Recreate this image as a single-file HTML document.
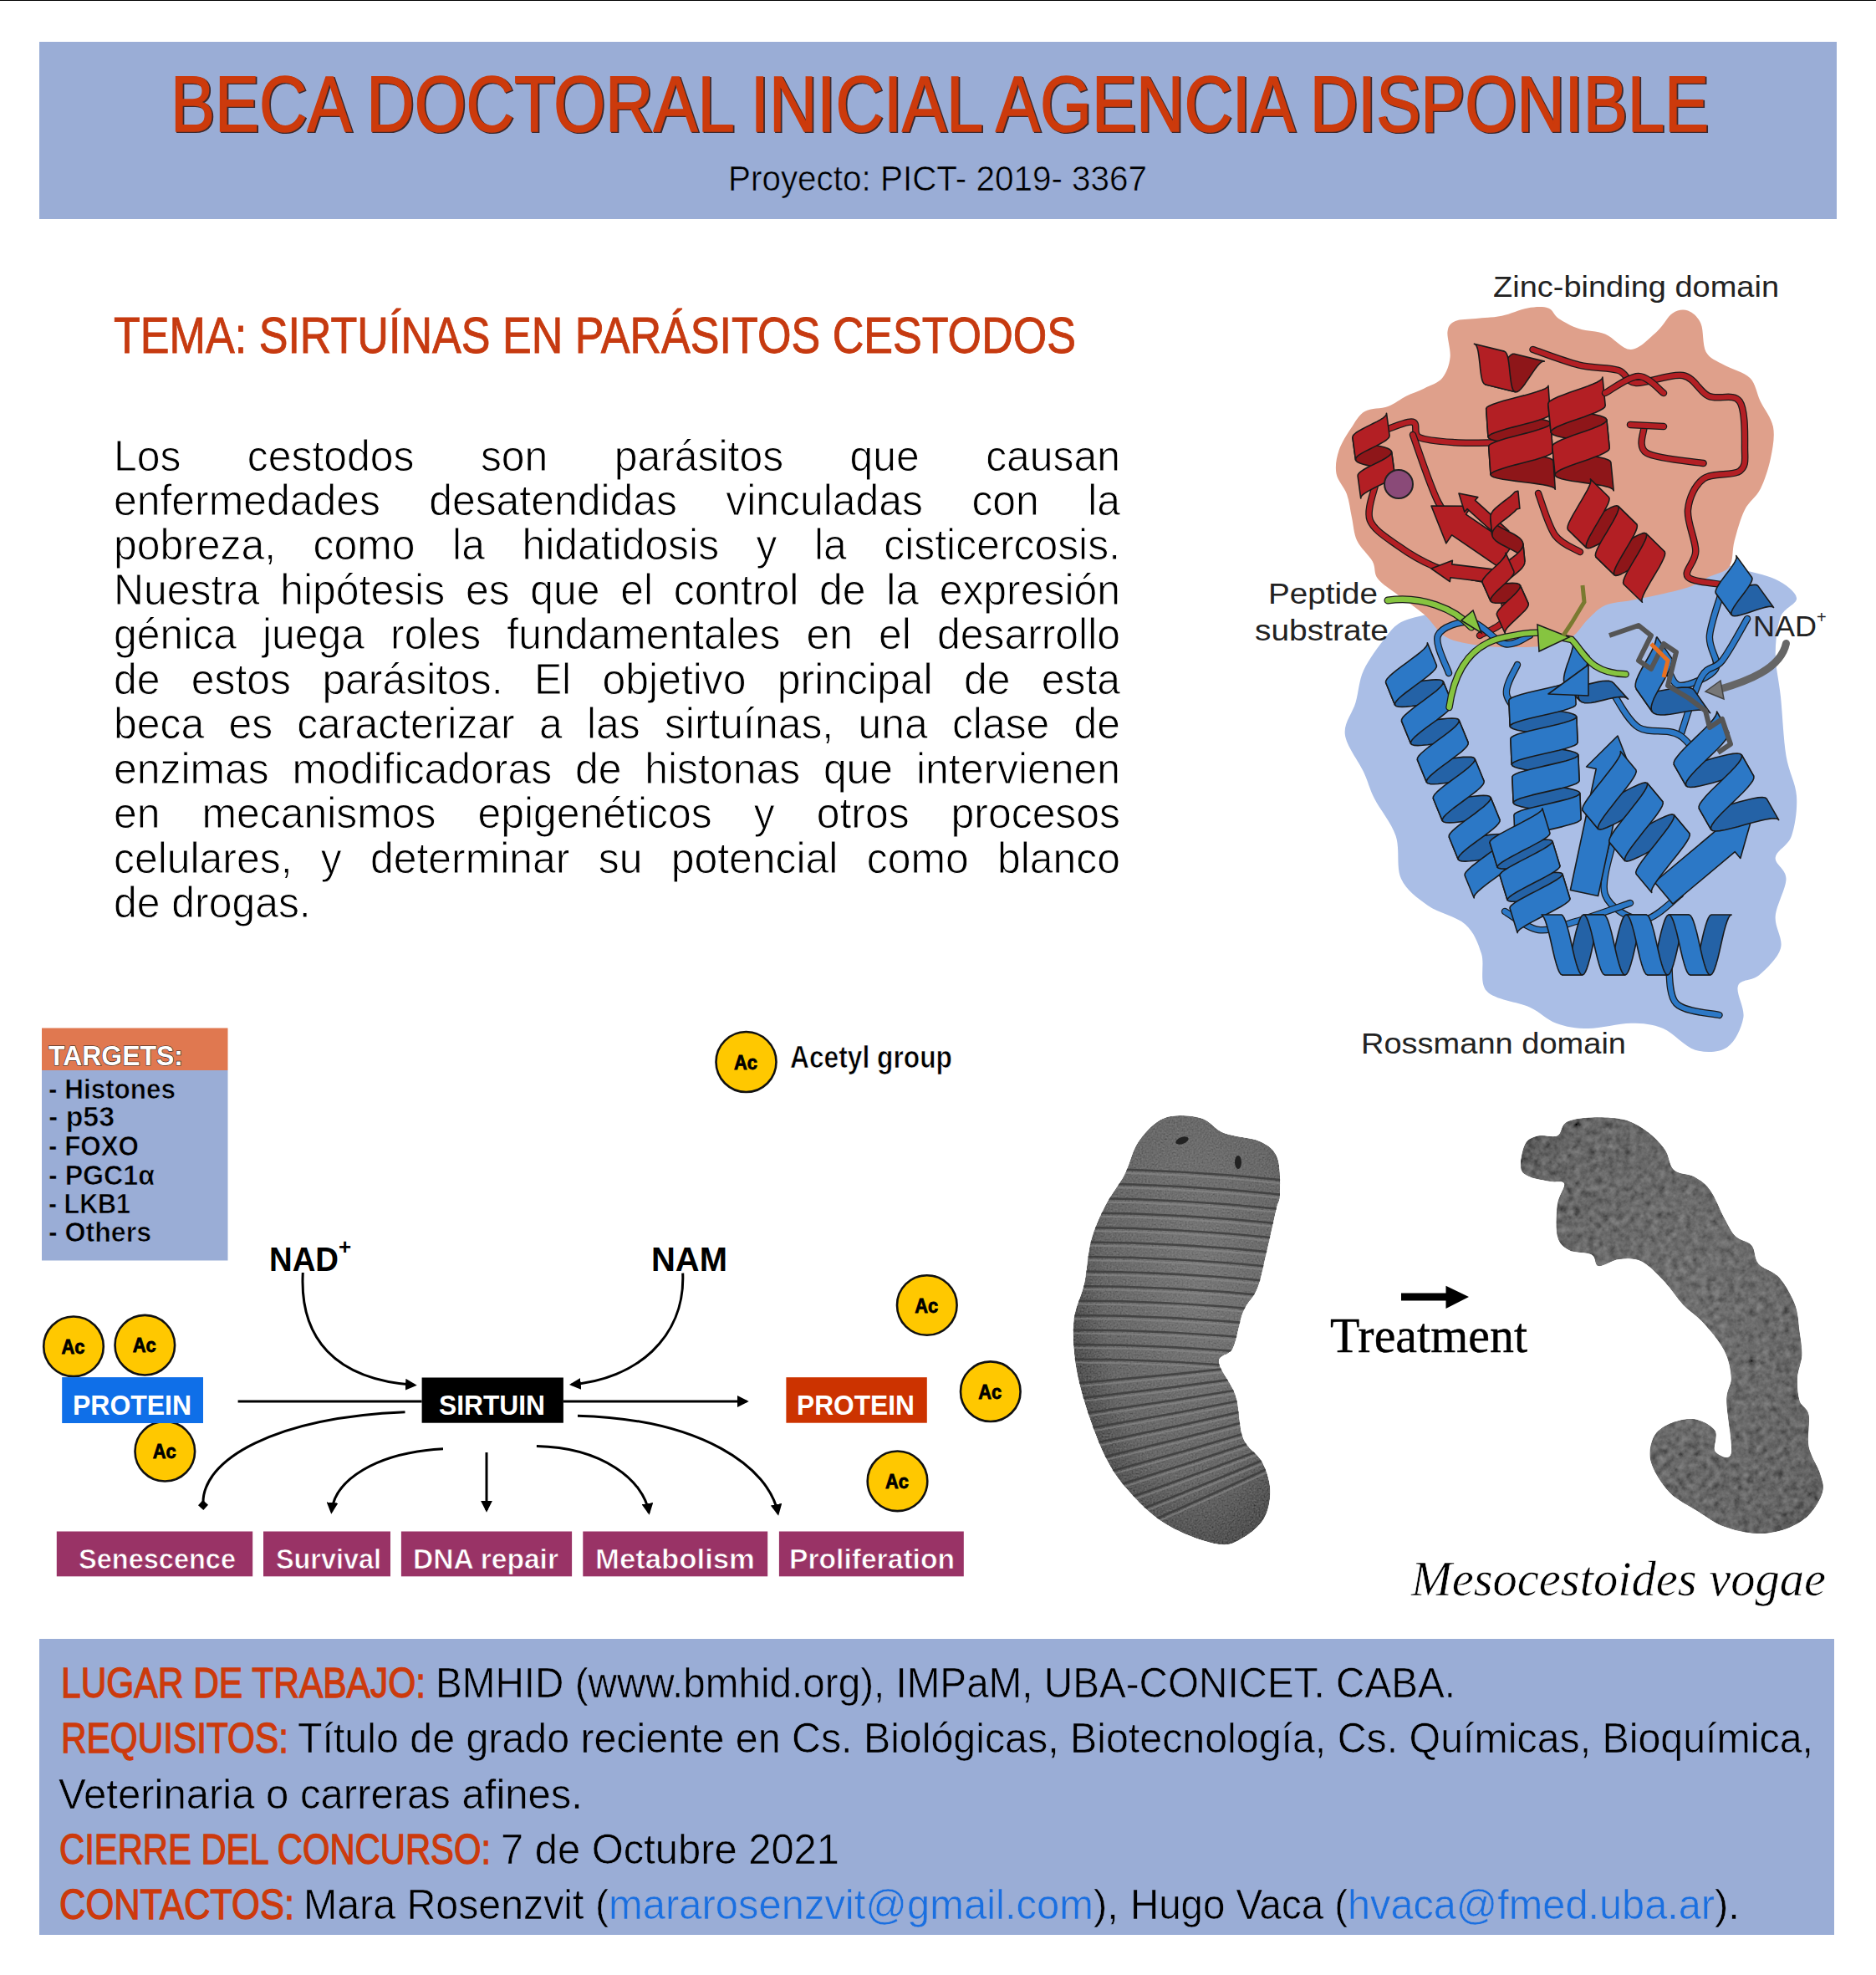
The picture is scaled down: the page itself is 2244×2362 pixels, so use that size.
<!DOCTYPE html>
<html><head><meta charset="utf-8">
<style>
html,body{margin:0;padding:0;background:#fff;width:2244px;height:2362px;overflow:hidden}
svg{display:block}
.s{font-family:"Liberation Sans",sans-serif}
.sb{font-family:"Liberation Sans",sans-serif;font-weight:bold}
.se{font-family:"Liberation Serif",serif}
.si{font-family:"Liberation Serif",serif;font-style:italic}
</style></head><body>
<svg width="2244" height="2362" viewBox="0 0 2244 2362">
<rect x="0" y="0" width="2244" height="2362" fill="#fff"/>
<rect x="0" y="0" width="2244" height="1" fill="#000"/>
<rect x="47" y="50" width="2150" height="212" fill="#9AADD6"/>
<text class="s" x="205.5" y="158.0" font-size="94" fill="#3a2a30" textLength="1840.0" lengthAdjust="spacingAndGlyphs" stroke="#3a2a30" stroke-width="2.2">BECA DOCTORAL INICIAL AGENCIA DISPONIBLE</text>
<text class="s" x="204.0" y="156.5" font-size="94" fill="#CC3A0C" textLength="1840.0" lengthAdjust="spacingAndGlyphs" stroke="#CC3A0C" stroke-width="1.6">BECA DOCTORAL INICIAL AGENCIA DISPONIBLE</text>
<text class="s" x="871.0" y="227.8" font-size="42.6" fill="#000" textLength="501.0" lengthAdjust="spacingAndGlyphs" stroke="#9AADD6" stroke-width="0.6">Proyecto: PICT- 2019- 3367</text>
<text class="s" x="136.0" y="422.0" font-size="61.6" fill="#C63A10" textLength="1151.0" lengthAdjust="spacingAndGlyphs" stroke="#C63A10" stroke-width="0.9">TEMA: SIRTUÍNAS EN PARÁSITOS CESTODOS</text>
<text class="s" x="136.0" y="562.5" font-size="52.5" fill="#000" textLength="80.4" lengthAdjust="spacingAndGlyphs" stroke="#fff" stroke-width="0.9">Los</text>
<text class="s" x="295.8" y="562.5" font-size="52.5" fill="#000" textLength="199.6" lengthAdjust="spacingAndGlyphs" stroke="#fff" stroke-width="0.9">cestodos</text>
<text class="s" x="574.9" y="562.5" font-size="52.5" fill="#000" textLength="80.4" lengthAdjust="spacingAndGlyphs" stroke="#fff" stroke-width="0.9">son</text>
<text class="s" x="734.7" y="562.5" font-size="52.5" fill="#000" textLength="202.4" lengthAdjust="spacingAndGlyphs" stroke="#fff" stroke-width="0.9">parásitos</text>
<text class="s" x="1016.5" y="562.5" font-size="52.5" fill="#000" textLength="83.2" lengthAdjust="spacingAndGlyphs" stroke="#fff" stroke-width="0.9">que</text>
<text class="s" x="1179.2" y="562.5" font-size="52.5" fill="#000" textLength="160.8" lengthAdjust="spacingAndGlyphs" stroke="#fff" stroke-width="0.9">causan</text>
<text class="s" x="136.0" y="616.0" font-size="52.5" fill="#000" textLength="318.9" lengthAdjust="spacingAndGlyphs" stroke="#fff" stroke-width="0.9">enfermedades</text>
<text class="s" x="513.2" y="616.0" font-size="52.5" fill="#000" textLength="296.7" lengthAdjust="spacingAndGlyphs" stroke="#fff" stroke-width="0.9">desatendidas</text>
<text class="s" x="868.3" y="616.0" font-size="52.5" fill="#000" textLength="235.7" lengthAdjust="spacingAndGlyphs" stroke="#fff" stroke-width="0.9">vinculadas</text>
<text class="s" x="1162.4" y="616.0" font-size="52.5" fill="#000" textLength="80.4" lengthAdjust="spacingAndGlyphs" stroke="#fff" stroke-width="0.9">con</text>
<text class="s" x="1301.2" y="616.0" font-size="52.5" fill="#000" textLength="38.8" lengthAdjust="spacingAndGlyphs" stroke="#fff" stroke-width="0.9">la</text>
<text class="s" x="136.0" y="669.4" font-size="52.5" fill="#000" textLength="194.1" lengthAdjust="spacingAndGlyphs" stroke="#fff" stroke-width="0.9">pobreza,</text>
<text class="s" x="374.6" y="669.4" font-size="52.5" fill="#000" textLength="122.0" lengthAdjust="spacingAndGlyphs" stroke="#fff" stroke-width="0.9">como</text>
<text class="s" x="541.1" y="669.4" font-size="52.5" fill="#000" textLength="38.8" lengthAdjust="spacingAndGlyphs" stroke="#fff" stroke-width="0.9">la</text>
<text class="s" x="624.4" y="669.4" font-size="52.5" fill="#000" textLength="235.7" lengthAdjust="spacingAndGlyphs" stroke="#fff" stroke-width="0.9">hidatidosis</text>
<text class="s" x="904.6" y="669.4" font-size="52.5" fill="#000" textLength="24.9" lengthAdjust="spacingAndGlyphs" stroke="#fff" stroke-width="0.9">y</text>
<text class="s" x="974.0" y="669.4" font-size="52.5" fill="#000" textLength="38.8" lengthAdjust="spacingAndGlyphs" stroke="#fff" stroke-width="0.9">la</text>
<text class="s" x="1057.3" y="669.4" font-size="52.5" fill="#000" textLength="282.7" lengthAdjust="spacingAndGlyphs" stroke="#fff" stroke-width="0.9">cisticercosis.</text>
<text class="s" x="136.0" y="722.9" font-size="52.5" fill="#000" textLength="174.6" lengthAdjust="spacingAndGlyphs" stroke="#fff" stroke-width="0.9">Nuestra</text>
<text class="s" x="335.3" y="722.9" font-size="52.5" fill="#000" textLength="196.8" lengthAdjust="spacingAndGlyphs" stroke="#fff" stroke-width="0.9">hipótesis</text>
<text class="s" x="556.9" y="722.9" font-size="52.5" fill="#000" textLength="52.7" lengthAdjust="spacingAndGlyphs" stroke="#fff" stroke-width="0.9">es</text>
<text class="s" x="634.2" y="722.9" font-size="52.5" fill="#000" textLength="83.2" lengthAdjust="spacingAndGlyphs" stroke="#fff" stroke-width="0.9">que</text>
<text class="s" x="742.2" y="722.9" font-size="52.5" fill="#000" textLength="38.8" lengthAdjust="spacingAndGlyphs" stroke="#fff" stroke-width="0.9">el</text>
<text class="s" x="805.7" y="722.9" font-size="52.5" fill="#000" textLength="149.7" lengthAdjust="spacingAndGlyphs" stroke="#fff" stroke-width="0.9">control</text>
<text class="s" x="980.1" y="722.9" font-size="52.5" fill="#000" textLength="55.5" lengthAdjust="spacingAndGlyphs" stroke="#fff" stroke-width="0.9">de</text>
<text class="s" x="1060.2" y="722.9" font-size="52.5" fill="#000" textLength="38.8" lengthAdjust="spacingAndGlyphs" stroke="#fff" stroke-width="0.9">la</text>
<text class="s" x="1123.7" y="722.9" font-size="52.5" fill="#000" textLength="216.3" lengthAdjust="spacingAndGlyphs" stroke="#fff" stroke-width="0.9">expresión</text>
<text class="s" x="136.0" y="776.3" font-size="52.5" fill="#000" textLength="147.0" lengthAdjust="spacingAndGlyphs" stroke="#fff" stroke-width="0.9">génica</text>
<text class="s" x="314.0" y="776.3" font-size="52.5" fill="#000" textLength="122.0" lengthAdjust="spacingAndGlyphs" stroke="#fff" stroke-width="0.9">juega</text>
<text class="s" x="467.1" y="776.3" font-size="52.5" fill="#000" textLength="108.1" lengthAdjust="spacingAndGlyphs" stroke="#fff" stroke-width="0.9">roles</text>
<text class="s" x="606.3" y="776.3" font-size="52.5" fill="#000" textLength="327.2" lengthAdjust="spacingAndGlyphs" stroke="#fff" stroke-width="0.9">fundamentales</text>
<text class="s" x="964.6" y="776.3" font-size="52.5" fill="#000" textLength="55.5" lengthAdjust="spacingAndGlyphs" stroke="#fff" stroke-width="0.9">en</text>
<text class="s" x="1051.1" y="776.3" font-size="52.5" fill="#000" textLength="38.8" lengthAdjust="spacingAndGlyphs" stroke="#fff" stroke-width="0.9">el</text>
<text class="s" x="1121.0" y="776.3" font-size="52.5" fill="#000" textLength="219.0" lengthAdjust="spacingAndGlyphs" stroke="#fff" stroke-width="0.9">desarrollo</text>
<text class="s" x="136.0" y="829.8" font-size="52.5" fill="#000" textLength="55.5" lengthAdjust="spacingAndGlyphs" stroke="#fff" stroke-width="0.9">de</text>
<text class="s" x="228.8" y="829.8" font-size="52.5" fill="#000" textLength="119.2" lengthAdjust="spacingAndGlyphs" stroke="#fff" stroke-width="0.9">estos</text>
<text class="s" x="385.4" y="829.8" font-size="52.5" fill="#000" textLength="216.2" lengthAdjust="spacingAndGlyphs" stroke="#fff" stroke-width="0.9">parásitos.</text>
<text class="s" x="638.9" y="829.8" font-size="52.5" fill="#000" textLength="44.3" lengthAdjust="spacingAndGlyphs" stroke="#fff" stroke-width="0.9">El</text>
<text class="s" x="720.6" y="829.8" font-size="52.5" fill="#000" textLength="171.9" lengthAdjust="spacingAndGlyphs" stroke="#fff" stroke-width="0.9">objetivo</text>
<text class="s" x="929.8" y="829.8" font-size="52.5" fill="#000" textLength="185.7" lengthAdjust="spacingAndGlyphs" stroke="#fff" stroke-width="0.9">principal</text>
<text class="s" x="1152.9" y="829.8" font-size="52.5" fill="#000" textLength="55.5" lengthAdjust="spacingAndGlyphs" stroke="#fff" stroke-width="0.9">de</text>
<text class="s" x="1245.7" y="829.8" font-size="52.5" fill="#000" textLength="94.3" lengthAdjust="spacingAndGlyphs" stroke="#fff" stroke-width="0.9">esta</text>
<text class="s" x="136.0" y="883.2" font-size="52.5" fill="#000" textLength="108.2" lengthAdjust="spacingAndGlyphs" stroke="#fff" stroke-width="0.9">beca</text>
<text class="s" x="273.4" y="883.2" font-size="52.5" fill="#000" textLength="52.7" lengthAdjust="spacingAndGlyphs" stroke="#fff" stroke-width="0.9">es</text>
<text class="s" x="355.2" y="883.2" font-size="52.5" fill="#000" textLength="260.5" lengthAdjust="spacingAndGlyphs" stroke="#fff" stroke-width="0.9">caracterizar</text>
<text class="s" x="645.0" y="883.2" font-size="52.5" fill="#000" textLength="27.7" lengthAdjust="spacingAndGlyphs" stroke="#fff" stroke-width="0.9">a</text>
<text class="s" x="701.9" y="883.2" font-size="52.5" fill="#000" textLength="63.8" lengthAdjust="spacingAndGlyphs" stroke="#fff" stroke-width="0.9">las</text>
<text class="s" x="794.9" y="883.2" font-size="52.5" fill="#000" textLength="202.3" lengthAdjust="spacingAndGlyphs" stroke="#fff" stroke-width="0.9">sirtuínas,</text>
<text class="s" x="1026.5" y="883.2" font-size="52.5" fill="#000" textLength="83.2" lengthAdjust="spacingAndGlyphs" stroke="#fff" stroke-width="0.9">una</text>
<text class="s" x="1138.9" y="883.2" font-size="52.5" fill="#000" textLength="116.4" lengthAdjust="spacingAndGlyphs" stroke="#fff" stroke-width="0.9">clase</text>
<text class="s" x="1284.5" y="883.2" font-size="52.5" fill="#000" textLength="55.5" lengthAdjust="spacingAndGlyphs" stroke="#fff" stroke-width="0.9">de</text>
<text class="s" x="136.0" y="936.7" font-size="52.5" fill="#000" textLength="185.7" lengthAdjust="spacingAndGlyphs" stroke="#fff" stroke-width="0.9">enzimas</text>
<text class="s" x="349.6" y="936.7" font-size="52.5" fill="#000" textLength="310.5" lengthAdjust="spacingAndGlyphs" stroke="#fff" stroke-width="0.9">modificadoras</text>
<text class="s" x="687.9" y="936.7" font-size="52.5" fill="#000" textLength="55.5" lengthAdjust="spacingAndGlyphs" stroke="#fff" stroke-width="0.9">de</text>
<text class="s" x="771.3" y="936.7" font-size="52.5" fill="#000" textLength="185.8" lengthAdjust="spacingAndGlyphs" stroke="#fff" stroke-width="0.9">histonas</text>
<text class="s" x="984.9" y="936.7" font-size="52.5" fill="#000" textLength="83.2" lengthAdjust="spacingAndGlyphs" stroke="#fff" stroke-width="0.9">que</text>
<text class="s" x="1096.0" y="936.7" font-size="52.5" fill="#000" textLength="244.0" lengthAdjust="spacingAndGlyphs" stroke="#fff" stroke-width="0.9">intervienen</text>
<text class="s" x="136.0" y="990.1" font-size="52.5" fill="#000" textLength="55.5" lengthAdjust="spacingAndGlyphs" stroke="#fff" stroke-width="0.9">en</text>
<text class="s" x="241.5" y="990.1" font-size="52.5" fill="#000" textLength="279.9" lengthAdjust="spacingAndGlyphs" stroke="#fff" stroke-width="0.9">mecanismos</text>
<text class="s" x="571.5" y="990.1" font-size="52.5" fill="#000" textLength="280.1" lengthAdjust="spacingAndGlyphs" stroke="#fff" stroke-width="0.9">epigenéticos</text>
<text class="s" x="901.7" y="990.1" font-size="52.5" fill="#000" textLength="24.9" lengthAdjust="spacingAndGlyphs" stroke="#fff" stroke-width="0.9">y</text>
<text class="s" x="976.7" y="990.1" font-size="52.5" fill="#000" textLength="110.9" lengthAdjust="spacingAndGlyphs" stroke="#fff" stroke-width="0.9">otros</text>
<text class="s" x="1137.6" y="990.1" font-size="52.5" fill="#000" textLength="202.4" lengthAdjust="spacingAndGlyphs" stroke="#fff" stroke-width="0.9">procesos</text>
<text class="s" x="136.0" y="1043.5" font-size="52.5" fill="#000" textLength="213.5" lengthAdjust="spacingAndGlyphs" stroke="#fff" stroke-width="0.9">celulares,</text>
<text class="s" x="383.8" y="1043.5" font-size="52.5" fill="#000" textLength="24.9" lengthAdjust="spacingAndGlyphs" stroke="#fff" stroke-width="0.9">y</text>
<text class="s" x="443.0" y="1043.5" font-size="52.5" fill="#000" textLength="238.4" lengthAdjust="spacingAndGlyphs" stroke="#fff" stroke-width="0.9">determinar</text>
<text class="s" x="715.8" y="1043.5" font-size="52.5" fill="#000" textLength="52.7" lengthAdjust="spacingAndGlyphs" stroke="#fff" stroke-width="0.9">su</text>
<text class="s" x="802.8" y="1043.5" font-size="52.5" fill="#000" textLength="199.6" lengthAdjust="spacingAndGlyphs" stroke="#fff" stroke-width="0.9">potencial</text>
<text class="s" x="1036.7" y="1043.5" font-size="52.5" fill="#000" textLength="122.0" lengthAdjust="spacingAndGlyphs" stroke="#fff" stroke-width="0.9">como</text>
<text class="s" x="1193.0" y="1043.5" font-size="52.5" fill="#000" textLength="147.0" lengthAdjust="spacingAndGlyphs" stroke="#fff" stroke-width="0.9">blanco</text>
<text class="s" x="136.0" y="1097.0" font-size="52.5" fill="#000" textLength="55.5" lengthAdjust="spacingAndGlyphs" stroke="#fff" stroke-width="0.9">de</text>
<text class="s" x="205.3" y="1097.0" font-size="52.5" fill="#000" textLength="166.4" lengthAdjust="spacingAndGlyphs" stroke="#fff" stroke-width="0.9">drogas.</text>
<rect x="47" y="1960" width="2147" height="354" fill="#9AADD6"/>
<text class="s" x="73.0" y="2030.0" font-size="49.5" fill="#CC3A0C" textLength="436.0" lengthAdjust="spacingAndGlyphs" stroke="#CC3A0C" stroke-width="1.3">LUGAR DE TRABAJO:</text>
<text class="s" x="521.0" y="2030.0" font-size="49.5" fill="#000" textLength="1220.0" lengthAdjust="spacingAndGlyphs" stroke="#9AADD6" stroke-width="0.6">BMHID (www.bmhid.org), IMPaM, UBA-CONICET. CABA.</text>
<text class="s" x="73.0" y="2096.0" font-size="49.5" fill="#CC3A0C" textLength="272.0" lengthAdjust="spacingAndGlyphs" stroke="#CC3A0C" stroke-width="1.3">REQUISITOS:</text>
<text class="s" x="356.0" y="2096.0" font-size="49.5" fill="#000" textLength="1813.0" lengthAdjust="spacingAndGlyphs" stroke="#9AADD6" stroke-width="0.6">Título de grado reciente en Cs. Biológicas, Biotecnología, Cs. Químicas, Bioquímica,</text>
<text class="s" x="70.0" y="2162.7" font-size="49.5" fill="#000" textLength="627.0" lengthAdjust="spacingAndGlyphs" stroke="#9AADD6" stroke-width="0.6">Veterinaria o carreras afines.</text>
<text class="s" x="71.0" y="2229.0" font-size="49.5" fill="#CC3A0C" textLength="516.0" lengthAdjust="spacingAndGlyphs" stroke="#CC3A0C" stroke-width="1.3">CIERRE DEL CONCURSO:</text>
<text class="s" x="599.0" y="2229.0" font-size="49.5" fill="#000" textLength="405.0" lengthAdjust="spacingAndGlyphs" stroke="#9AADD6" stroke-width="0.6">7 de Octubre 2021</text>
<text class="s" x="71.0" y="2295.0" font-size="49.5" fill="#CC3A0C" textLength="281.0" lengthAdjust="spacingAndGlyphs" stroke="#CC3A0C" stroke-width="1.3">CONTACTOS:</text>
<text class="s" x="363.0" y="2295.0" font-size="49.5" fill="#000" textLength="365.0" lengthAdjust="spacingAndGlyphs" stroke="#9AADD6" stroke-width="0.6">Mara Rosenzvit (</text>
<text class="s" x="728.0" y="2295.0" font-size="49.5" fill="#1A6FE0" textLength="580.0" lengthAdjust="spacingAndGlyphs" stroke="#9AADD6" stroke-width="0.6">mararosenzvit@gmail.com</text>
<text class="s" x="1308.0" y="2295.0" font-size="49.5" fill="#000" textLength="30.0" lengthAdjust="spacingAndGlyphs" stroke="#9AADD6" stroke-width="0.6">),</text>
<text class="s" x="1352.0" y="2295.0" font-size="49.5" fill="#000" textLength="260.0" lengthAdjust="spacingAndGlyphs" stroke="#9AADD6" stroke-width="0.6">Hugo Vaca (</text>
<text class="s" x="1612.0" y="2295.0" font-size="49.5" fill="#1A6FE0" textLength="439.0" lengthAdjust="spacingAndGlyphs" stroke="#9AADD6" stroke-width="0.6">hvaca@fmed.uba.ar</text>
<text class="s" x="2051.0" y="2295.0" font-size="49.5" fill="#000" textLength="30.0" lengthAdjust="spacingAndGlyphs" stroke="#9AADD6" stroke-width="0.6">).</text>
<rect x="50" y="1229.5" width="222.5" height="50.5" fill="#E07850"/>
<rect x="50" y="1280" width="222.5" height="227.5" fill="#9AADD6"/>
<text class="sb" x="58.0" y="1274.0" font-size="33" fill="#fff" textLength="161.0" lengthAdjust="spacingAndGlyphs" stroke="#222" stroke-width="1.2" style="paint-order:stroke">TARGETS:</text>
<text class="sb" x="58.0" y="1313.5" font-size="34" fill="#000" textLength="152.0" lengthAdjust="spacingAndGlyphs" stroke="#9AADD6" stroke-width="0.7">- Histones</text>
<text class="sb" x="58.0" y="1346.5" font-size="34" fill="#000" textLength="79.0" lengthAdjust="spacingAndGlyphs" stroke="#9AADD6" stroke-width="0.7">- p53</text>
<text class="sb" x="58.0" y="1381.5" font-size="34" fill="#000" textLength="108.0" lengthAdjust="spacingAndGlyphs" stroke="#9AADD6" stroke-width="0.7">- FOXO</text>
<text class="sb" x="58.0" y="1416.5" font-size="34" fill="#000" textLength="127.0" lengthAdjust="spacingAndGlyphs" stroke="#9AADD6" stroke-width="0.7">- PGC1α</text>
<text class="sb" x="58.0" y="1450.5" font-size="34" fill="#000" textLength="98.0" lengthAdjust="spacingAndGlyphs" stroke="#9AADD6" stroke-width="0.7">- LKB1</text>
<text class="sb" x="58.0" y="1484.5" font-size="34" fill="#000" textLength="123.0" lengthAdjust="spacingAndGlyphs" stroke="#9AADD6" stroke-width="0.7">- Others</text>
<circle cx="892.5" cy="1270" r="36" fill="#FFC800" stroke="#111" stroke-width="2.6"/>
<text class="sb" x="878.0" y="1278.5" font-size="24" fill="#000" textLength="28.0" lengthAdjust="spacingAndGlyphs" stroke="#000" stroke-width="0.8">Ac</text>
<text class="sb" x="945.0" y="1277.2" font-size="36" fill="#000" textLength="194.0" lengthAdjust="spacingAndGlyphs" stroke="#fff" stroke-width="0.7">Acetyl group</text>
<circle cx="88" cy="1610.3" r="35.8" fill="#FFC800" stroke="#111" stroke-width="2.6"/>
<text class="sb" x="73.5" y="1618.8" font-size="24" fill="#000" textLength="28.0" lengthAdjust="spacingAndGlyphs" stroke="#000" stroke-width="0.8">Ac</text>
<circle cx="173.3" cy="1608.7" r="35.8" fill="#FFC800" stroke="#111" stroke-width="2.6"/>
<text class="sb" x="158.8" y="1617.2" font-size="24" fill="#000" textLength="28.0" lengthAdjust="spacingAndGlyphs" stroke="#000" stroke-width="0.8">Ac</text>
<circle cx="197.3" cy="1735.7" r="35.8" fill="#FFC800" stroke="#111" stroke-width="2.6"/>
<text class="sb" x="182.8" y="1744.2" font-size="24" fill="#000" textLength="28.0" lengthAdjust="spacingAndGlyphs" stroke="#000" stroke-width="0.8">Ac</text>
<circle cx="1108.8" cy="1561" r="35.8" fill="#FFC800" stroke="#111" stroke-width="2.6"/>
<text class="sb" x="1094.3" y="1569.5" font-size="24" fill="#000" textLength="28.0" lengthAdjust="spacingAndGlyphs" stroke="#000" stroke-width="0.8">Ac</text>
<circle cx="1184.8" cy="1664.2" r="35.8" fill="#FFC800" stroke="#111" stroke-width="2.6"/>
<text class="sb" x="1170.3" y="1672.7" font-size="24" fill="#000" textLength="28.0" lengthAdjust="spacingAndGlyphs" stroke="#000" stroke-width="0.8">Ac</text>
<circle cx="1073.5" cy="1771.3" r="35.8" fill="#FFC800" stroke="#111" stroke-width="2.6"/>
<text class="sb" x="1059.0" y="1779.8" font-size="24" fill="#000" textLength="28.0" lengthAdjust="spacingAndGlyphs" stroke="#000" stroke-width="0.8">Ac</text>
<rect x="74.2" y="1647.1" width="168.8" height="54.9" fill="#0F6FE8"/>
<text class="sb" x="87.0" y="1691.9" font-size="34" fill="#fff" textLength="142.0" lengthAdjust="spacingAndGlyphs" >PROTEIN</text>
<rect x="504.6" y="1647.5" width="169.3" height="54.2" fill="#000"/>
<text class="sb" x="525.0" y="1691.5" font-size="34" fill="#fff" textLength="127.0" lengthAdjust="spacingAndGlyphs" >SIRTUIN</text>
<rect x="940.4" y="1647.2" width="168.4" height="54.5" fill="#CC3300"/>
<text class="sb" x="953.0" y="1691.9" font-size="34" fill="#fff" textLength="141.0" lengthAdjust="spacingAndGlyphs" >PROTEIN</text>
<text class="sb" x="322.0" y="1519.8" font-size="40.5" fill="#000" textLength="83.0" lengthAdjust="spacingAndGlyphs" >NAD</text>
<text class="sb" x="405.0" y="1500.0" font-size="26" fill="#000" >+</text>
<text class="sb" x="779.0" y="1519.7" font-size="40.5" fill="#000" textLength="91.0" lengthAdjust="spacingAndGlyphs" >NAM</text>
<rect x="67.8" y="1831.5" width="234.4" height="53.8" fill="#993366"/>
<text class="sb" x="94.0" y="1875.5" font-size="34" fill="#fff" textLength="188.0" lengthAdjust="spacingAndGlyphs" stroke="#993366" stroke-width="0.7">Senescence</text>
<rect x="315" y="1831.5" width="152.0" height="53.8" fill="#993366"/>
<text class="sb" x="330.0" y="1875.5" font-size="34" fill="#fff" textLength="126.0" lengthAdjust="spacingAndGlyphs" stroke="#993366" stroke-width="0.7">Survival</text>
<rect x="479.9" y="1831.5" width="204.2" height="53.8" fill="#993366"/>
<text class="sb" x="494.0" y="1875.5" font-size="34" fill="#fff" textLength="174.0" lengthAdjust="spacingAndGlyphs" stroke="#993366" stroke-width="0.7">DNA repair</text>
<rect x="697.3" y="1831.5" width="220.9" height="53.8" fill="#993366"/>
<text class="sb" x="712.0" y="1875.5" font-size="34" fill="#fff" textLength="191.0" lengthAdjust="spacingAndGlyphs" stroke="#993366" stroke-width="0.7">Metabolism</text>
<rect x="931.9" y="1831.5" width="220.9" height="53.8" fill="#993366"/>
<text class="sb" x="944.0" y="1875.5" font-size="34" fill="#fff" textLength="198.0" lengthAdjust="spacingAndGlyphs" stroke="#993366" stroke-width="0.7">Proliferation</text>
<defs><marker id="ah" viewBox="0 0 10 10" refX="8" refY="5" markerWidth="4.6" markerHeight="4.6" orient="auto-start-reverse"><path d="M0,0 L10,5 L0,10 z" fill="#000"/></marker><marker id="dm" viewBox="0 0 10 10" refX="5" refY="5" markerWidth="4" markerHeight="4" orient="auto"><path d="M5,0 L10,5 L5,10 L0,5 z" fill="#000"/></marker></defs>
<path d="M362.3,1522 C358,1600 400,1650 496,1656.5" fill="none" stroke="#000" stroke-width="3" marker-end="url(#ah)"/>
<path d="M816.7,1522.6 C820,1600 760,1650 683.7,1655.7" fill="none" stroke="#000" stroke-width="3" marker-end="url(#ah)"/>
<line x1="284.6" y1="1676" x2="504.6" y2="1676" stroke="#000" stroke-width="3"/>
<line x1="673.9" y1="1676" x2="893" y2="1676" fill="none" stroke="#000" stroke-width="3" marker-end="url(#ah)"/>
<path d="M484.5,1688.7 C330,1695 240,1745 243,1800" fill="none" stroke="#000" stroke-width="3" marker-end="url(#dm)"/>
<path d="M530,1732.8 C450,1737 400,1770 396.5,1808" fill="none" stroke="#000" stroke-width="3" marker-end="url(#ah)"/>
<line x1="582" y1="1737" x2="582" y2="1806" fill="none" stroke="#000" stroke-width="3" marker-end="url(#ah)"/>
<path d="M641.9,1729.5 C720,1731 770,1770 776.2,1809" fill="none" stroke="#000" stroke-width="3" marker-end="url(#ah)"/>
<path d="M691,1693.2 C840,1697 920,1755 930.6,1810" fill="none" stroke="#000" stroke-width="3" marker-end="url(#ah)"/>
<path d="M1676,1546.5 L1729.5,1546.5 L1729.5,1537.7 L1757,1551 L1729.5,1565 L1729.5,1555.5 L1676,1555.5 z" fill="#000"/>
<text class="se" x="1591.0" y="1616.5" font-size="59" fill="#000" textLength="236.0" lengthAdjust="spacingAndGlyphs" stroke="#000" stroke-width="0.4">Treatment</text>
<text class="si" x="1688.0" y="1908.0" font-size="58.5" fill="#000" textLength="496.0" lengthAdjust="spacingAndGlyphs" stroke="#fff" stroke-width="0.6">Mesocestoides vogae</text>
<text class="s" x="1786" y="354.6" font-size="35" fill="#222" textLength="342" lengthAdjust="spacingAndGlyphs">Zinc-binding domain</text>
<text class="s" x="1628" y="1260" font-size="35" fill="#222" textLength="317" lengthAdjust="spacingAndGlyphs">Rossmann domain</text>
<path d="M2079.0,680.0 C2092.9,683.8 2112.0,687.0 2123.7,692.8 C2135.4,698.6 2147.9,707.5 2149.0,715.0 C2150.1,722.5 2134.2,726.4 2130.0,737.6 C2125.8,748.8 2123.7,766.3 2123.7,782.3 C2123.7,798.3 2127.9,813.2 2130.0,833.5 C2132.1,853.8 2133.3,884.2 2136.5,903.9 C2139.7,923.6 2147.9,935.9 2149.0,951.9 C2150.1,967.9 2147.2,987.5 2143.0,999.8 C2138.8,1012.0 2124.8,1016.9 2123.7,1025.4 C2122.6,1033.9 2136.5,1039.3 2136.5,1051.0 C2136.5,1062.7 2124.8,1082.0 2123.7,1095.8 C2122.6,1109.6 2133.2,1122.3 2130.0,1134.0 C2126.8,1145.7 2113.0,1158.5 2104.5,1166.0 C2096.0,1173.5 2082.2,1170.5 2079.0,1179.0 C2075.8,1187.5 2087.5,1205.0 2085.3,1217.3 C2083.1,1229.5 2075.6,1246.1 2066.0,1252.5 C2056.4,1258.9 2040.5,1259.5 2027.7,1255.7 C2014.9,1252.0 2002.2,1235.3 1989.4,1230.0 C1976.6,1224.7 1965.9,1223.7 1951.0,1223.7 C1936.1,1223.7 1914.7,1230.0 1899.8,1230.0 C1884.9,1230.0 1873.1,1228.0 1861.4,1223.7 C1849.7,1219.5 1843.3,1210.9 1829.5,1204.5 C1815.7,1198.1 1787.9,1196.0 1778.3,1185.3 C1768.7,1174.6 1776.3,1153.8 1772.0,1140.5 C1767.7,1127.2 1763.4,1115.0 1752.7,1105.4 C1742.0,1095.8 1720.8,1092.1 1708.0,1083.0 C1695.2,1073.9 1682.4,1064.9 1676.0,1051.0 C1669.6,1037.1 1674.9,1015.8 1669.6,999.8 C1664.3,983.8 1650.4,967.8 1644.0,955.0 C1637.6,942.2 1636.9,935.8 1631.0,923.0 C1625.1,910.2 1610.4,892.1 1608.8,878.3 C1607.2,864.5 1617.9,852.8 1621.6,840.0 C1625.3,827.2 1625.3,814.3 1631.2,801.5 C1637.1,788.7 1649.3,772.6 1656.8,763.0 C1664.3,753.4 1667.5,748.8 1676.0,744.0 C1684.5,739.2 1698.4,737.1 1708.0,734.4 C1717.6,731.7 1724.8,733.7 1733.5,728.0 C1742.2,722.3 1740.6,706.3 1760.0,700.0 C1779.4,693.7 1818.3,693.3 1850.0,690.0 C1881.7,686.7 1918.3,683.3 1950.0,680.0 C1981.7,676.7 2018.5,670.0 2040.0,670.0 C2061.5,670.0 2065.1,676.2 2079.0,680.0 Z" fill="#AABEE6"/>
<path d="M1731.5,396.4 C1732.5,389.2 1735.1,386.6 1740.8,384.0 C1746.5,381.4 1756.2,382.0 1765.5,381.0 C1774.8,380.0 1786.1,379.9 1796.4,377.8 C1806.7,375.7 1818.0,370.1 1827.3,368.5 C1836.6,366.9 1845.8,366.4 1852.0,368.5 C1858.2,370.6 1858.2,376.9 1864.4,381.0 C1870.6,385.1 1879.9,390.2 1889.2,393.3 C1898.5,396.4 1909.7,395.4 1920.0,399.5 C1930.3,403.6 1940.7,418.5 1951.0,418.0 C1961.3,417.5 1973.8,403.6 1982.0,396.4 C1990.2,389.2 1994.3,378.8 2000.5,374.7 C2006.7,370.6 2013.3,369.6 2019.0,371.6 C2024.7,373.7 2030.9,378.8 2034.5,387.0 C2038.1,395.2 2036.1,412.7 2040.7,421.0 C2045.3,429.3 2053.6,431.4 2062.3,436.6 C2071.1,441.8 2086.0,444.8 2093.2,452.0 C2100.4,459.2 2101.0,470.0 2105.6,479.8 C2110.2,489.6 2118.9,499.5 2121.0,510.8 C2123.1,522.1 2120.6,535.5 2118.0,547.9 C2115.4,560.3 2110.8,574.7 2105.6,585.0 C2100.4,595.3 2092.2,599.4 2087.0,609.7 C2081.8,620.0 2077.8,635.5 2074.7,646.8 C2071.6,658.1 2073.7,670.5 2068.5,677.7 C2063.3,684.9 2052.1,685.9 2043.8,690.0 C2035.5,694.1 2029.3,698.9 2019.0,702.5 C2008.7,706.1 1993.3,709.1 1982.0,711.7 C1970.7,714.3 1961.3,716.0 1951.0,718.0 C1940.7,720.0 1928.5,720.3 1920.0,724.0 C1911.5,727.7 1906.7,733.7 1900.0,740.0 C1893.3,746.3 1888.3,756.7 1880.0,762.0 C1871.7,767.3 1861.7,770.0 1850.0,772.0 C1838.3,774.0 1823.3,774.0 1810.0,774.0 C1796.7,774.0 1783.3,774.0 1770.0,772.0 C1756.7,770.0 1741.0,768.2 1730.0,762.0 C1719.0,755.8 1713.2,743.3 1703.7,735.0 C1694.2,726.7 1682.0,719.2 1672.7,712.0 C1663.4,704.8 1653.2,698.8 1648.0,692.0 C1642.8,685.2 1645.9,679.0 1641.8,671.5 C1637.7,664.0 1627.4,655.5 1623.3,646.8 C1619.2,638.0 1619.0,628.3 1617.0,619.0 C1615.0,609.7 1614.1,599.8 1611.0,591.0 C1607.9,582.2 1600.1,575.1 1598.5,566.4 C1596.9,557.7 1598.5,547.9 1601.6,538.6 C1604.7,529.3 1611.8,518.6 1617.0,510.8 C1622.2,503.0 1625.4,496.1 1632.6,492.0 C1639.8,487.9 1652.2,489.1 1660.4,486.0 C1668.6,482.9 1674.8,477.3 1682.0,473.7 C1689.2,470.1 1696.5,468.0 1703.7,464.4 C1710.9,460.8 1720.2,458.2 1725.3,452.0 C1730.4,445.8 1733.6,436.6 1734.6,427.3 C1735.6,418.0 1730.5,403.6 1731.5,396.4 Z" fill="#DFA08B"/>
<path d="M1833.5,418.0 C1842.8,421.1 1872.0,432.5 1889.0,436.6 C1906.0,440.7 1924.2,439.2 1935.5,442.8 C1946.8,446.4 1944.1,457.0 1957.0,458.0 C1969.9,459.0 1998.3,446.4 2012.8,449.0 C2027.2,451.6 2032.4,468.5 2043.7,473.7 C2055.0,478.9 2073.6,469.7 2080.8,480.0 C2088.0,490.3 2087.0,521.6 2087.0,535.5 C2087.0,549.4 2089.2,557.1 2081.0,563.3 C2072.8,569.5 2047.9,564.9 2037.6,572.6 C2027.3,580.3 2020.5,595.3 2019.0,609.7 C2017.5,624.1 2028.3,645.6 2028.3,659.0 C2028.3,672.4 2013.3,683.3 2019.0,690.0 C2024.7,696.7 2055.1,697.8 2062.3,699.4" fill="none" stroke="#1a1a1a" stroke-width="8.5" stroke-linecap="round" stroke-linejoin="round"/>
<path d="M1833.5,418.0 C1842.8,421.1 1872.0,432.5 1889.0,436.6 C1906.0,440.7 1924.2,439.2 1935.5,442.8 C1946.8,446.4 1944.1,457.0 1957.0,458.0 C1969.9,459.0 1998.3,446.4 2012.8,449.0 C2027.2,451.6 2032.4,468.5 2043.7,473.7 C2055.0,478.9 2073.6,469.7 2080.8,480.0 C2088.0,490.3 2087.0,521.6 2087.0,535.5 C2087.0,549.4 2089.2,557.1 2081.0,563.3 C2072.8,569.5 2047.9,564.9 2037.6,572.6 C2027.3,580.3 2020.5,595.3 2019.0,609.7 C2017.5,624.1 2028.3,645.6 2028.3,659.0 C2028.3,672.4 2013.3,683.3 2019.0,690.0 C2024.7,696.7 2055.1,697.8 2062.3,699.4" fill="none" stroke="#B31F24" stroke-width="6" stroke-linecap="round" stroke-linejoin="round"/>
<path d="M1635.6,523.0 C1644.3,519.9 1677.7,504.6 1688.0,504.6 C1698.3,504.6 1688.7,518.9 1697.5,523.0 C1706.3,527.1 1725.4,528.2 1740.8,529.3 C1756.2,530.3 1781.8,529.3 1790.0,529.3" fill="none" stroke="#1a1a1a" stroke-width="8.5" stroke-linecap="round" stroke-linejoin="round"/>
<path d="M1635.6,523.0 C1644.3,519.9 1677.7,504.6 1688.0,504.6 C1698.3,504.6 1688.7,518.9 1697.5,523.0 C1706.3,527.1 1725.4,528.2 1740.8,529.3 C1756.2,530.3 1781.8,529.3 1790.0,529.3" fill="none" stroke="#B31F24" stroke-width="6" stroke-linecap="round" stroke-linejoin="round"/>
<path d="M1645.0,580.0 C1644.0,587.0 1634.1,609.8 1638.7,622.0 C1643.3,634.2 1659.8,643.7 1672.7,653.0 C1685.6,662.3 1701.5,671.5 1716.0,677.7 C1730.5,683.9 1752.7,688.0 1760.0,690.0" fill="none" stroke="#1a1a1a" stroke-width="8.5" stroke-linecap="round" stroke-linejoin="round"/>
<path d="M1645.0,580.0 C1644.0,587.0 1634.1,609.8 1638.7,622.0 C1643.3,634.2 1659.8,643.7 1672.7,653.0 C1685.6,662.3 1701.5,671.5 1716.0,677.7 C1730.5,683.9 1752.7,688.0 1760.0,690.0" fill="none" stroke="#B31F24" stroke-width="6" stroke-linecap="round" stroke-linejoin="round"/>
<path d="M1966.5,510.8 C1967.0,516.0 1957.8,534.5 1969.6,541.7 C1981.4,548.9 2026.3,552.0 2037.6,554.0" fill="none" stroke="#1a1a1a" stroke-width="8.5" stroke-linecap="round" stroke-linejoin="round"/>
<path d="M1966.5,510.8 C1967.0,516.0 1957.8,534.5 1969.6,541.7 C1981.4,548.9 2026.3,552.0 2037.6,554.0" fill="none" stroke="#B31F24" stroke-width="6" stroke-linecap="round" stroke-linejoin="round"/>
<path d="M1950.0,508.0 L1990.0,510.0" fill="none" stroke="#1a1a1a" stroke-width="8.5" stroke-linecap="round" stroke-linejoin="round"/>
<path d="M1950.0,508.0 L1990.0,510.0" fill="none" stroke="#B31F24" stroke-width="6" stroke-linecap="round" stroke-linejoin="round"/>
<path d="M1760.0,690.0 C1765.0,691.7 1783.3,691.7 1790.0,700.0 C1796.7,708.3 1803.3,730.0 1800.0,740.0 C1796.7,750.0 1775.0,756.7 1770.0,760.0" fill="none" stroke="#1a1a1a" stroke-width="8.5" stroke-linecap="round" stroke-linejoin="round"/>
<path d="M1760.0,690.0 C1765.0,691.7 1783.3,691.7 1790.0,700.0 C1796.7,708.3 1803.3,730.0 1800.0,740.0 C1796.7,750.0 1775.0,756.7 1770.0,760.0" fill="none" stroke="#B31F24" stroke-width="6" stroke-linecap="round" stroke-linejoin="round"/>
<path d="M1690.0,520.0 C1695.0,533.3 1710.0,580.0 1720.0,600.0 C1730.0,620.0 1745.0,633.3 1750.0,640.0" fill="none" stroke="#1a1a1a" stroke-width="8.5" stroke-linecap="round" stroke-linejoin="round"/>
<path d="M1690.0,520.0 C1695.0,533.3 1710.0,580.0 1720.0,600.0 C1730.0,620.0 1745.0,633.3 1750.0,640.0" fill="none" stroke="#B31F24" stroke-width="6" stroke-linecap="round" stroke-linejoin="round"/>
<path d="M1808.5,652.6 L1753.5,615.1 L1760.3,605.2 L1712.0,605.0 L1729.8,649.8 L1736.6,639.9 L1791.5,677.4 Z" fill="#B31F24" stroke="#1a1a1a" stroke-width="1.6" stroke-linejoin="round"/>
<path d="M1796.0,682.1 L1736.8,674.9 L1737.4,670.2 L1712.0,680.0 L1734.3,695.6 L1734.9,690.8 L1794.0,697.9 Z" fill="#B31F24" stroke="#1a1a1a" stroke-width="1.6" stroke-linejoin="round"/>
<path d="M1804.7,634.8 L1764.5,598.3 L1767.8,594.6 L1745.0,590.0 L1751.8,612.3 L1755.1,608.6 L1795.3,645.2 Z" fill="#B31F24" stroke="#1a1a1a" stroke-width="1.6" stroke-linejoin="round"/>
<path d="M1812.6,468.8 L1814.5,468.7 L1816.6,467.6 L1818.9,465.5 L1821.5,462.5 L1824.2,458.9 L1827.0,454.8 L1829.9,450.5 L1832.8,446.2 L1835.7,442.1 L1838.4,438.5 L1841.0,435.5 L1843.3,433.4 L1845.4,432.3 L1847.3,432.1 L1811.4,423.2 L1809.5,423.3 L1807.4,424.4 L1805.1,426.5 L1802.5,429.5 L1799.8,433.1 L1797.0,437.2 L1794.1,441.5 L1791.2,445.8 L1788.3,449.9 L1785.6,453.5 L1783.0,456.5 L1780.7,458.6 L1778.6,459.7 L1776.7,459.9 Z" fill="#8E1619" stroke="#1a1a1a" stroke-width="1.6" stroke-linejoin="round"/>
<path d="M1799.3,420.1 L1800.9,421.1 L1802.2,423.1 L1803.3,426.1 L1804.1,429.9 L1804.8,434.4 L1805.4,439.3 L1805.9,444.5 L1806.5,449.7 L1807.1,454.6 L1807.8,459.1 L1808.6,462.9 L1809.7,465.9 L1811.0,467.9 L1812.6,468.8 L1776.7,459.9 L1775.1,458.9 L1773.8,456.9 L1772.7,453.9 L1771.9,450.1 L1771.2,445.6 L1770.6,440.7 L1770.1,435.5 L1769.5,430.3 L1768.9,425.4 L1768.2,420.9 L1767.4,417.1 L1766.3,414.1 L1765.0,412.1 L1763.4,411.2 Z" fill="#B31F24" stroke="#1a1a1a" stroke-width="1.6" stroke-linejoin="round"/>
<path d="M1621.5,549.8 L1622.3,551.4 L1624.1,552.8 L1626.9,554.1 L1630.6,555.3 L1635.0,556.4 L1639.8,557.5 L1644.9,558.5 L1649.9,559.5 L1654.8,560.5 L1659.1,561.6 L1662.8,562.8 L1665.6,564.1 L1667.4,565.5 L1668.2,567.1 L1664.6,540.3 L1663.9,538.8 L1662.0,537.3 L1659.2,536.0 L1655.5,534.8 L1651.2,533.7 L1646.4,532.7 L1641.3,531.7 L1636.2,530.7 L1631.4,529.7 L1627.0,528.6 L1623.4,527.4 L1620.5,526.1 L1618.7,524.6 L1617.9,523.1 Z" fill="#8E1619" stroke="#1a1a1a" stroke-width="1.6" stroke-linejoin="round"/>
<path d="M1662.1,520.9 L1661.7,522.7 L1660.3,524.5 L1658.0,526.5 L1654.7,528.6 L1650.8,530.8 L1646.4,533.1 L1641.8,535.4 L1637.2,537.7 L1632.8,539.9 L1628.8,542.1 L1625.6,544.2 L1623.2,546.2 L1621.8,548.1 L1621.5,549.8 L1617.9,523.1 L1618.3,521.3 L1619.7,519.5 L1622.0,517.5 L1625.3,515.4 L1629.2,513.2 L1633.6,510.9 L1638.2,508.6 L1642.8,506.3 L1647.2,504.1 L1651.2,501.9 L1654.4,499.8 L1656.8,497.8 L1658.2,495.9 L1658.5,494.2 Z" fill="#B31F24" stroke="#1a1a1a" stroke-width="1.6" stroke-linejoin="round"/>
<path d="M1668.2,567.1 L1667.9,568.8 L1666.5,570.7 L1664.1,572.7 L1660.9,574.8 L1657.0,577.0 L1652.6,579.2 L1647.9,581.5 L1643.3,583.8 L1638.9,586.1 L1635.0,588.3 L1631.8,590.4 L1629.4,592.4 L1628.0,594.3 L1627.7,596.0 L1624.1,569.2 L1624.4,567.5 L1625.8,565.6 L1628.2,563.6 L1631.4,561.5 L1635.3,559.3 L1639.7,557.1 L1644.4,554.8 L1649.0,552.5 L1653.4,550.2 L1657.3,548.0 L1660.5,545.9 L1662.9,543.9 L1664.3,542.0 L1664.6,540.3 Z" fill="#B31F24" stroke="#1a1a1a" stroke-width="1.6" stroke-linejoin="round"/>
<path d="M1780.0,522.7 L1781.0,524.3 L1783.9,525.7 L1788.6,527.0 L1794.7,528.2 L1802.0,529.3 L1810.1,530.4 L1818.6,531.5 L1827.2,532.5 L1835.3,533.6 L1842.6,534.7 L1848.7,535.9 L1853.3,537.2 L1856.2,538.6 L1857.3,540.2 L1855.0,506.3 L1854.0,504.7 L1851.1,503.3 L1846.4,502.0 L1840.3,500.8 L1833.0,499.7 L1824.9,498.6 L1816.4,497.5 L1807.8,496.5 L1799.7,495.4 L1792.4,494.3 L1786.3,493.1 L1781.7,491.8 L1778.8,490.4 L1777.7,488.8 Z" fill="#8E1619" stroke="#1a1a1a" stroke-width="1.6" stroke-linejoin="round"/>
<path d="M1783.0,567.7 L1784.0,569.3 L1786.9,570.7 L1791.6,572.0 L1797.7,573.2 L1805.0,574.3 L1813.1,575.4 L1821.6,576.5 L1830.2,577.5 L1838.3,578.6 L1845.6,579.7 L1851.7,580.9 L1856.3,582.2 L1859.2,583.6 L1860.3,585.2 L1858.0,551.3 L1857.0,549.7 L1854.1,548.3 L1849.4,547.0 L1843.3,545.8 L1836.0,544.7 L1827.9,543.6 L1819.4,542.5 L1810.8,541.5 L1802.7,540.4 L1795.4,539.3 L1789.3,538.1 L1784.7,536.8 L1781.8,535.4 L1780.7,533.8 Z" fill="#8E1619" stroke="#1a1a1a" stroke-width="1.6" stroke-linejoin="round"/>
<path d="M1854.3,495.2 L1853.5,496.9 L1850.8,498.6 L1846.3,500.6 L1840.4,502.6 L1833.4,504.7 L1825.5,506.8 L1817.1,509.0 L1808.8,511.1 L1800.9,513.3 L1793.8,515.4 L1787.9,517.4 L1783.5,519.3 L1780.8,521.1 L1780.0,522.7 L1777.7,488.8 L1778.5,487.1 L1781.2,485.4 L1785.7,483.4 L1791.6,481.4 L1798.6,479.3 L1806.5,477.2 L1814.9,475.0 L1823.2,472.9 L1831.1,470.7 L1838.2,468.6 L1844.1,466.6 L1848.5,464.7 L1851.2,462.9 L1852.0,461.3 Z" fill="#B31F24" stroke="#1a1a1a" stroke-width="1.6" stroke-linejoin="round"/>
<path d="M1857.3,540.2 L1856.5,541.9 L1853.8,543.6 L1849.3,545.6 L1843.4,547.6 L1836.4,549.7 L1828.5,551.8 L1820.1,554.0 L1811.8,556.1 L1803.9,558.3 L1796.8,560.4 L1790.9,562.4 L1786.5,564.3 L1783.8,566.1 L1783.0,567.7 L1780.7,533.8 L1781.5,532.1 L1784.2,530.4 L1788.7,528.4 L1794.6,526.4 L1801.6,524.3 L1809.5,522.2 L1817.9,520.0 L1826.2,517.9 L1834.1,515.7 L1841.2,513.6 L1847.1,511.6 L1851.5,509.7 L1854.2,507.9 L1855.0,506.3 Z" fill="#B31F24" stroke="#1a1a1a" stroke-width="1.6" stroke-linejoin="round"/>
<path d="M1855.1,517.0 L1856.1,518.7 L1858.8,520.3 L1863.0,521.7 L1868.5,523.0 L1875.1,524.2 L1882.5,525.3 L1890.2,526.4 L1897.9,527.5 L1905.2,528.6 L1911.8,529.8 L1917.3,531.1 L1921.5,532.5 L1924.2,534.1 L1925.2,535.9 L1921.9,502.0 L1920.9,500.3 L1918.2,498.7 L1914.0,497.3 L1908.5,496.0 L1901.9,494.8 L1894.5,493.7 L1886.8,492.6 L1879.1,491.5 L1871.8,490.4 L1865.2,489.2 L1859.7,487.9 L1855.5,486.5 L1852.8,484.9 L1851.8,483.1 Z" fill="#8E1619" stroke="#1a1a1a" stroke-width="1.6" stroke-linejoin="round"/>
<path d="M1860.1,568.0 L1861.1,569.7 L1863.8,571.3 L1868.0,572.7 L1873.5,574.0 L1880.1,575.2 L1887.5,576.3 L1895.2,577.4 L1902.9,578.5 L1910.2,579.6 L1916.8,580.8 L1922.3,582.1 L1926.5,583.5 L1929.2,585.1 L1930.2,586.9 L1926.9,553.0 L1925.9,551.3 L1923.2,549.7 L1919.0,548.3 L1913.5,547.0 L1906.9,545.8 L1899.5,544.7 L1891.8,543.6 L1884.1,542.5 L1876.8,541.4 L1870.2,540.2 L1864.7,538.9 L1860.5,537.5 L1857.8,535.9 L1856.8,534.1 Z" fill="#8E1619" stroke="#1a1a1a" stroke-width="1.6" stroke-linejoin="round"/>
<path d="M1920.2,484.9 L1919.6,486.8 L1917.3,488.8 L1913.4,491.0 L1908.2,493.4 L1902.0,495.8 L1895.0,498.4 L1887.7,500.9 L1880.3,503.5 L1873.3,506.0 L1867.1,508.5 L1861.9,510.8 L1858.1,513.0 L1855.7,515.1 L1855.1,517.0 L1851.8,483.1 L1852.4,481.2 L1854.7,479.2 L1858.6,477.0 L1863.8,474.6 L1870.0,472.2 L1877.0,469.6 L1884.3,467.1 L1891.7,464.5 L1898.7,462.0 L1904.9,459.5 L1910.1,457.2 L1913.9,455.0 L1916.3,452.9 L1916.9,451.0 Z" fill="#B31F24" stroke="#1a1a1a" stroke-width="1.6" stroke-linejoin="round"/>
<path d="M1925.2,535.9 L1924.6,537.8 L1922.3,539.8 L1918.4,542.0 L1913.2,544.4 L1907.0,546.8 L1900.0,549.4 L1892.7,551.9 L1885.3,554.5 L1878.3,557.0 L1872.1,559.5 L1866.9,561.8 L1863.1,564.0 L1860.7,566.1 L1860.1,568.0 L1856.8,534.1 L1857.4,532.2 L1859.7,530.2 L1863.6,528.0 L1868.8,525.6 L1875.0,523.2 L1882.0,520.6 L1889.3,518.1 L1896.7,515.5 L1903.7,513.0 L1909.9,510.5 L1915.1,508.2 L1918.9,506.0 L1921.3,503.9 L1921.9,502.0 Z" fill="#B31F24" stroke="#1a1a1a" stroke-width="1.6" stroke-linejoin="round"/>
<path d="M1897.7,655.1 L1899.5,655.8 L1902.3,655.3 L1906.0,653.8 L1910.7,651.5 L1916.0,648.4 L1921.7,644.9 L1927.7,641.1 L1933.8,637.4 L1939.5,633.8 L1944.8,630.8 L1949.5,628.5 L1953.2,627.0 L1956.0,626.5 L1957.8,627.1 L1935.6,605.4 L1933.9,604.8 L1931.1,605.3 L1927.3,606.8 L1922.7,609.1 L1917.4,612.2 L1911.6,615.7 L1905.6,619.5 L1899.6,623.2 L1893.8,626.7 L1888.5,629.8 L1883.9,632.1 L1880.1,633.6 L1877.3,634.1 L1875.6,633.5 Z" fill="#8E1619" stroke="#1a1a1a" stroke-width="1.6" stroke-linejoin="round"/>
<path d="M1931.1,687.7 L1932.8,688.4 L1935.6,687.9 L1939.4,686.4 L1944.0,684.1 L1949.3,681.0 L1955.1,677.5 L1961.1,673.7 L1967.1,670.0 L1972.9,666.4 L1978.2,663.4 L1982.8,661.1 L1986.6,659.6 L1989.4,659.1 L1991.1,659.7 L1968.9,638.0 L1967.2,637.4 L1964.4,637.9 L1960.6,639.4 L1956.0,641.7 L1950.7,644.8 L1944.9,648.3 L1938.9,652.1 L1932.9,655.8 L1927.1,659.3 L1921.8,662.4 L1917.2,664.7 L1913.4,666.2 L1910.6,666.7 L1908.9,666.1 Z" fill="#8E1619" stroke="#1a1a1a" stroke-width="1.6" stroke-linejoin="round"/>
<path d="M1924.4,594.5 L1925.1,596.2 L1924.7,599.0 L1923.3,602.9 L1921.0,607.5 L1918.1,612.9 L1914.7,618.7 L1911.1,624.8 L1907.5,630.9 L1904.1,636.8 L1901.1,642.1 L1898.9,646.8 L1897.5,650.6 L1897.1,653.4 L1897.7,655.1 L1875.6,633.5 L1874.9,631.8 L1875.3,629.0 L1876.7,625.1 L1879.0,620.5 L1881.9,615.1 L1885.3,609.3 L1888.9,603.2 L1892.5,597.1 L1895.9,591.2 L1898.9,585.9 L1901.1,581.2 L1902.5,577.4 L1902.9,574.6 L1902.3,572.9 Z" fill="#B31F24" stroke="#1a1a1a" stroke-width="1.6" stroke-linejoin="round"/>
<path d="M1957.8,627.1 L1958.4,628.8 L1958.0,631.6 L1956.6,635.4 L1954.4,640.1 L1951.4,645.5 L1948.0,651.3 L1944.4,657.4 L1940.8,663.5 L1937.4,669.4 L1934.5,674.7 L1932.2,679.4 L1930.8,683.2 L1930.4,686.0 L1931.1,687.7 L1908.9,666.1 L1908.3,664.3 L1908.7,661.5 L1910.1,657.7 L1912.3,653.1 L1915.2,647.7 L1918.6,641.9 L1922.3,635.8 L1925.9,629.7 L1929.3,623.8 L1932.2,618.4 L1934.4,613.8 L1935.8,610.0 L1936.2,607.2 L1935.6,605.4 Z" fill="#B31F24" stroke="#1a1a1a" stroke-width="1.6" stroke-linejoin="round"/>
<path d="M1991.1,659.7 L1991.7,661.4 L1991.3,664.2 L1989.9,668.0 L1987.7,672.7 L1984.8,678.1 L1981.4,683.9 L1977.7,690.0 L1974.1,696.1 L1970.7,702.0 L1967.8,707.3 L1965.6,712.0 L1964.2,715.8 L1963.8,718.6 L1964.4,720.3 L1942.2,698.7 L1941.6,696.9 L1942.0,694.1 L1943.4,690.3 L1945.6,685.7 L1948.6,680.3 L1952.0,674.4 L1955.6,668.3 L1959.2,662.3 L1962.6,656.4 L1965.5,651.0 L1967.8,646.4 L1969.2,642.6 L1969.6,639.8 L1968.9,638.0 Z" fill="#B31F24" stroke="#1a1a1a" stroke-width="1.6" stroke-linejoin="round"/>
<path d="M1784.7,639.7 L1785.4,642.1 L1787.0,644.5 L1789.4,646.8 L1792.4,649.0 L1796.1,651.2 L1800.1,653.3 L1804.3,655.5 L1808.6,657.6 L1812.6,659.7 L1816.2,661.9 L1819.3,664.1 L1821.7,666.4 L1823.2,668.8 L1823.9,671.2 L1821.9,650.3 L1821.2,647.9 L1819.7,645.5 L1817.3,643.2 L1814.2,641.0 L1810.6,638.8 L1806.6,636.7 L1802.3,634.5 L1798.1,632.4 L1794.1,630.3 L1790.5,628.1 L1787.4,625.9 L1785.0,623.6 L1783.4,621.2 L1782.8,618.8 Z" fill="#8E1619" stroke="#1a1a1a" stroke-width="1.6" stroke-linejoin="round"/>
<path d="M1817.9,608.3 L1817.5,608.3 L1816.1,608.5 L1814.1,609.1 L1811.5,611.9 L1808.3,614.7 L1804.7,617.6 L1801.0,620.5 L1797.2,623.3 L1793.7,626.2 L1790.5,629.0 L1787.9,631.8 L1786.0,634.5 L1785.0,637.1 L1784.7,639.7 L1782.8,618.8 L1783.0,616.2 L1784.1,613.6 L1785.9,610.9 L1788.5,608.1 L1791.7,605.3 L1795.3,602.4 L1799.0,599.5 L1802.8,596.7 L1806.3,593.8 L1809.5,591.0 L1812.1,588.2 L1814.2,587.6 L1815.5,587.4 L1815.9,587.4 Z" fill="#B31F24" stroke="#1a1a1a" stroke-width="1.6" stroke-linejoin="round"/>
<path d="M1823.9,671.2 L1823.7,673.8 L1822.6,676.4 L1820.7,679.1 L1818.1,681.9 L1815.0,684.7 L1811.4,687.6 L1807.7,690.5 L1803.9,693.3 L1800.4,696.2 L1797.2,699.0 L1794.6,701.8 L1792.7,704.5 L1791.6,707.1 L1791.4,709.7 L1789.4,688.8 L1789.6,686.2 L1790.7,683.6 L1792.6,680.9 L1795.2,678.1 L1798.4,675.3 L1801.9,672.4 L1805.7,669.5 L1809.4,666.7 L1813.0,663.8 L1816.1,661.0 L1818.7,658.2 L1820.6,655.5 L1821.7,652.9 L1821.9,650.3 Z" fill="#B31F24" stroke="#1a1a1a" stroke-width="1.6" stroke-linejoin="round"/>
<path d="M1783.0,718.8 L1784.1,720.0 L1786.0,720.7 L1788.8,721.2 L1792.3,721.2 L1796.4,721.1 L1800.9,720.7 L1805.6,720.3 L1810.3,719.8 L1814.7,719.5 L1818.8,719.3 L1822.3,719.4 L1825.1,719.8 L1827.1,720.6 L1828.2,721.8 L1818.3,699.9 L1817.3,698.7 L1815.3,697.9 L1812.5,697.5 L1809.0,697.4 L1804.9,697.6 L1800.4,697.9 L1795.8,698.4 L1791.1,698.8 L1786.6,699.2 L1782.5,699.3 L1779.0,699.3 L1776.2,698.8 L1774.3,698.1 L1773.2,696.9 Z" fill="#8E1619" stroke="#1a1a1a" stroke-width="1.6" stroke-linejoin="round"/>
<path d="M1810.8,683.1 L1811.0,684.7 L1810.3,686.7 L1808.7,689.0 L1806.4,691.7 L1803.6,694.6 L1800.4,697.7 L1796.9,701.0 L1793.5,704.2 L1790.2,707.3 L1787.4,710.2 L1785.1,712.9 L1783.6,715.2 L1782.8,717.2 L1783.0,718.8 L1773.2,696.9 L1773.0,695.3 L1773.7,693.3 L1775.3,691.0 L1777.6,688.3 L1780.4,685.4 L1783.6,682.3 L1787.1,679.0 L1790.5,675.8 L1793.8,672.7 L1796.6,669.8 L1798.9,667.1 L1800.4,664.8 L1801.2,662.8 L1801.0,661.2 Z" fill="#B31F24" stroke="#1a1a1a" stroke-width="1.6" stroke-linejoin="round"/>
<path d="M1828.2,721.8 L1828.3,723.4 L1827.6,725.3 L1826.0,727.7 L1823.8,730.4 L1820.9,733.3 L1817.7,736.4 L1814.2,739.6 L1810.8,742.8 L1807.6,745.9 L1804.7,748.9 L1802.4,751.5 L1800.9,753.9 L1800.2,755.9 L1800.3,757.5 L1790.5,735.6 L1790.3,734.0 L1791.1,732.0 L1792.6,729.6 L1794.9,727.0 L1797.7,724.0 L1801.0,720.9 L1804.4,717.7 L1807.9,714.5 L1811.1,711.4 L1813.9,708.5 L1816.2,705.8 L1817.8,703.4 L1818.5,701.5 L1818.3,699.9 Z" fill="#B31F24" stroke="#1a1a1a" stroke-width="1.6" stroke-linejoin="round"/>
<path d="M1840.0,590.0 C1843.3,598.3 1851.7,628.3 1860.0,640.0 C1868.3,651.7 1885.0,656.7 1890.0,660.0" fill="none" stroke="#1a1a1a" stroke-width="8.5" stroke-linecap="round" stroke-linejoin="round"/>
<path d="M1840.0,590.0 C1843.3,598.3 1851.7,628.3 1860.0,640.0 C1868.3,651.7 1885.0,656.7 1890.0,660.0" fill="none" stroke="#B31F24" stroke-width="6" stroke-linecap="round" stroke-linejoin="round"/>
<path d="M1920.0,470.0 C1926.7,466.7 1948.3,450.0 1960.0,450.0 C1971.7,450.0 1985.0,466.7 1990.0,470.0" fill="none" stroke="#1a1a1a" stroke-width="8.5" stroke-linecap="round" stroke-linejoin="round"/>
<path d="M1920.0,470.0 C1926.7,466.7 1948.3,450.0 1960.0,450.0 C1971.7,450.0 1985.0,466.7 1990.0,470.0" fill="none" stroke="#B31F24" stroke-width="6" stroke-linecap="round" stroke-linejoin="round"/>
<circle cx="1673" cy="579" r="17" fill="#8A4A78" stroke="#222" stroke-width="2"/>
<path d="M2062.3,699.4 C2059.4,709.5 2046.7,743.2 2045.0,760.0 C2043.3,776.8 2057.8,790.0 2052.0,800.0 C2046.2,810.0 2019.5,820.0 2010.0,820.0 C2000.5,820.0 1997.5,803.3 1995.0,800.0" fill="none" stroke="#1a1a1a" stroke-width="8.5" stroke-linecap="round" stroke-linejoin="round"/>
<path d="M2062.3,699.4 C2059.4,709.5 2046.7,743.2 2045.0,760.0 C2043.3,776.8 2057.8,790.0 2052.0,800.0 C2046.2,810.0 2019.5,820.0 2010.0,820.0 C2000.5,820.0 1997.5,803.3 1995.0,800.0" fill="none" stroke="#2C78C6" stroke-width="6" stroke-linecap="round" stroke-linejoin="round"/>
<path d="M1733.0,805.0 C1730.8,797.5 1715.5,770.2 1720.0,760.0 C1724.5,749.8 1746.7,742.3 1760.0,744.0 C1773.3,745.7 1788.3,767.3 1800.0,770.0 C1811.7,772.7 1825.0,761.7 1830.0,760.0" fill="none" stroke="#1a1a1a" stroke-width="8.5" stroke-linecap="round" stroke-linejoin="round"/>
<path d="M1733.0,805.0 C1730.8,797.5 1715.5,770.2 1720.0,760.0 C1724.5,749.8 1746.7,742.3 1760.0,744.0 C1773.3,745.7 1788.3,767.3 1800.0,770.0 C1811.7,772.7 1825.0,761.7 1830.0,760.0" fill="none" stroke="#2C78C6" stroke-width="6" stroke-linecap="round" stroke-linejoin="round"/>
<path d="M1815.0,795.0 C1812.8,800.8 1800.3,818.8 1802.0,830.0 C1803.7,841.2 1821.2,856.7 1825.0,862.0" fill="none" stroke="#1a1a1a" stroke-width="8.5" stroke-linecap="round" stroke-linejoin="round"/>
<path d="M1815.0,795.0 C1812.8,800.8 1800.3,818.8 1802.0,830.0 C1803.7,841.2 1821.2,856.7 1825.0,862.0" fill="none" stroke="#2C78C6" stroke-width="6" stroke-linecap="round" stroke-linejoin="round"/>
<path d="M1930.0,1005.0 C1928.3,1015.8 1914.2,1054.2 1920.0,1070.0 C1925.8,1085.8 1950.0,1100.0 1965.0,1100.0 C1980.0,1100.0 2002.5,1075.0 2010.0,1070.0" fill="none" stroke="#1a1a1a" stroke-width="8.5" stroke-linecap="round" stroke-linejoin="round"/>
<path d="M1930.0,1005.0 C1928.3,1015.8 1914.2,1054.2 1920.0,1070.0 C1925.8,1085.8 1950.0,1100.0 1965.0,1100.0 C1980.0,1100.0 2002.5,1075.0 2010.0,1070.0" fill="none" stroke="#2C78C6" stroke-width="6" stroke-linecap="round" stroke-linejoin="round"/>
<path d="M1996.0,1150.0 C1997.5,1158.3 1994.9,1189.3 2005.0,1200.0 C2015.1,1210.7 2047.9,1211.7 2056.5,1214.0" fill="none" stroke="#1a1a1a" stroke-width="8.5" stroke-linecap="round" stroke-linejoin="round"/>
<path d="M1996.0,1150.0 C1997.5,1158.3 1994.9,1189.3 2005.0,1200.0 C2015.1,1210.7 2047.9,1211.7 2056.5,1214.0" fill="none" stroke="#2C78C6" stroke-width="6" stroke-linecap="round" stroke-linejoin="round"/>
<path d="M1800.0,1090.0 C1806.7,1093.7 1825.8,1110.0 1840.0,1112.0 C1854.2,1114.0 1866.7,1107.3 1885.0,1102.0 C1903.3,1096.7 1939.2,1083.7 1950.0,1080.0" fill="none" stroke="#1a1a1a" stroke-width="8.5" stroke-linecap="round" stroke-linejoin="round"/>
<path d="M1800.0,1090.0 C1806.7,1093.7 1825.8,1110.0 1840.0,1112.0 C1854.2,1114.0 1866.7,1107.3 1885.0,1102.0 C1903.3,1096.7 1939.2,1083.7 1950.0,1080.0" fill="none" stroke="#2C78C6" stroke-width="6" stroke-linecap="round" stroke-linejoin="round"/>
<path d="M2090.0,740.0 C2085.0,748.3 2069.2,778.3 2060.0,790.0 C2050.8,801.7 2043.3,795.0 2035.0,810.0 C2026.7,825.0 2014.2,868.3 2010.0,880.0" fill="none" stroke="#1a1a1a" stroke-width="8.5" stroke-linecap="round" stroke-linejoin="round"/>
<path d="M2090.0,740.0 C2085.0,748.3 2069.2,778.3 2060.0,790.0 C2050.8,801.7 2043.3,795.0 2035.0,810.0 C2026.7,825.0 2014.2,868.3 2010.0,880.0" fill="none" stroke="#2C78C6" stroke-width="6" stroke-linecap="round" stroke-linejoin="round"/>
<path d="M1930.0,830.0 C1935.0,836.7 1946.7,861.7 1960.0,870.0 C1973.3,878.3 1995.0,870.0 2010.0,880.0 C2025.0,890.0 2043.3,921.7 2050.0,930.0" fill="none" stroke="#1a1a1a" stroke-width="8.5" stroke-linecap="round" stroke-linejoin="round"/>
<path d="M1930.0,830.0 C1935.0,836.7 1946.7,861.7 1960.0,870.0 C1973.3,878.3 1995.0,870.0 2010.0,880.0 C2025.0,890.0 2043.3,921.7 2050.0,930.0" fill="none" stroke="#2C78C6" stroke-width="6" stroke-linecap="round" stroke-linejoin="round"/>
<path d="M1668.6,843.1 L1670.0,844.4 L1672.9,845.2 L1677.1,845.4 L1682.5,845.1 L1688.7,844.5 L1695.7,843.6 L1702.9,842.5 L1710.2,841.5 L1717.1,840.5 L1723.4,839.9 L1728.8,839.6 L1733.0,839.8 L1735.9,840.6 L1737.3,841.9 L1726.3,815.1 L1724.9,813.7 L1722.0,813.0 L1717.8,812.8 L1712.5,813.1 L1706.2,813.7 L1699.2,814.6 L1692.0,815.7 L1684.7,816.7 L1677.8,817.6 L1671.5,818.3 L1666.1,818.6 L1661.9,818.3 L1659.0,817.6 L1657.6,816.3 Z" fill="#2462A6" stroke="#1a1a1a" stroke-width="1.6" stroke-linejoin="round"/>
<path d="M1687.5,889.3 L1688.9,890.6 L1691.8,891.4 L1696.0,891.6 L1701.4,891.3 L1707.7,890.7 L1714.6,889.7 L1721.9,888.7 L1729.1,887.6 L1736.1,886.7 L1742.3,886.1 L1747.7,885.8 L1751.9,886.0 L1754.8,886.8 L1756.2,888.1 L1745.2,861.3 L1743.8,859.9 L1740.9,859.2 L1736.7,859.0 L1731.4,859.2 L1725.1,859.9 L1718.1,860.8 L1710.9,861.9 L1703.6,862.9 L1696.7,863.8 L1690.4,864.5 L1685.0,864.7 L1680.8,864.5 L1677.9,863.8 L1676.5,862.4 Z" fill="#2462A6" stroke="#1a1a1a" stroke-width="1.6" stroke-linejoin="round"/>
<path d="M1706.4,935.5 L1707.8,936.8 L1710.7,937.6 L1714.9,937.8 L1720.3,937.5 L1726.6,936.8 L1733.5,935.9 L1740.8,934.9 L1748.0,933.8 L1755.0,932.9 L1761.3,932.3 L1766.6,932.0 L1770.8,932.2 L1773.7,932.9 L1775.1,934.3 L1764.1,907.5 L1762.7,906.1 L1759.8,905.4 L1755.6,905.2 L1750.3,905.4 L1744.0,906.1 L1737.0,907.0 L1729.8,908.0 L1722.5,909.1 L1715.6,910.0 L1709.3,910.6 L1703.9,910.9 L1699.7,910.7 L1696.9,910.0 L1695.4,908.6 Z" fill="#2462A6" stroke="#1a1a1a" stroke-width="1.6" stroke-linejoin="round"/>
<path d="M1725.3,981.6 L1726.8,983.0 L1729.6,983.7 L1733.8,983.9 L1739.2,983.7 L1745.5,983.0 L1752.4,982.1 L1759.7,981.1 L1766.9,980.0 L1773.9,979.1 L1780.2,978.4 L1785.5,978.2 L1789.7,978.4 L1792.6,979.1 L1794.0,980.5 L1783.0,953.6 L1781.6,952.3 L1778.7,951.5 L1774.5,951.3 L1769.2,951.6 L1762.9,952.3 L1756.0,953.2 L1748.7,954.2 L1741.4,955.3 L1734.5,956.2 L1728.2,956.8 L1722.8,957.1 L1718.6,956.9 L1715.8,956.1 L1714.3,954.8 Z" fill="#2462A6" stroke="#1a1a1a" stroke-width="1.6" stroke-linejoin="round"/>
<path d="M1744.2,1027.8 L1745.7,1029.2 L1748.5,1029.9 L1752.7,1030.1 L1758.1,1029.8 L1764.4,1029.2 L1771.3,1028.3 L1778.6,1027.2 L1785.9,1026.2 L1792.8,1025.3 L1799.1,1024.6 L1804.4,1024.4 L1808.6,1024.6 L1811.5,1025.3 L1812.9,1026.7 L1801.9,999.8 L1800.5,998.5 L1797.7,997.7 L1793.5,997.5 L1788.1,997.8 L1781.8,998.4 L1774.9,999.4 L1767.6,1000.4 L1760.3,1001.4 L1753.4,1002.4 L1747.1,1003.0 L1741.7,1003.3 L1737.5,1003.1 L1734.7,1002.3 L1733.3,1001.0 Z" fill="#2462A6" stroke="#1a1a1a" stroke-width="1.6" stroke-linejoin="round"/>
<path d="M1718.4,795.7 L1718.3,797.7 L1716.8,800.2 L1713.9,803.3 L1709.9,806.9 L1705.0,810.9 L1699.4,815.1 L1693.5,819.4 L1687.6,823.8 L1682.0,828.0 L1677.1,831.9 L1673.0,835.5 L1670.2,838.6 L1668.7,841.1 L1668.6,843.1 L1657.6,816.3 L1657.7,814.3 L1659.2,811.8 L1662.1,808.7 L1666.1,805.1 L1671.0,801.1 L1676.6,796.9 L1682.5,792.6 L1688.4,788.2 L1694.0,784.0 L1698.9,780.1 L1703.0,776.5 L1705.8,773.4 L1707.3,770.9 L1707.4,768.9 Z" fill="#2C78C6" stroke="#1a1a1a" stroke-width="1.6" stroke-linejoin="round"/>
<path d="M1737.3,841.9 L1737.2,843.9 L1735.7,846.4 L1732.9,849.5 L1728.8,853.1 L1723.9,857.0 L1718.3,861.3 L1712.4,865.6 L1706.5,869.9 L1700.9,874.2 L1696.0,878.1 L1692.0,881.7 L1689.1,884.8 L1687.6,887.3 L1687.5,889.3 L1676.5,862.4 L1676.6,860.5 L1678.1,857.9 L1681.0,854.8 L1685.0,851.3 L1689.9,847.3 L1695.5,843.1 L1701.4,838.8 L1707.3,834.4 L1712.9,830.2 L1717.9,826.3 L1721.9,822.7 L1724.7,819.6 L1726.2,817.0 L1726.3,815.1 Z" fill="#2C78C6" stroke="#1a1a1a" stroke-width="1.6" stroke-linejoin="round"/>
<path d="M1756.2,888.1 L1756.1,890.1 L1754.6,892.6 L1751.8,895.7 L1747.8,899.3 L1742.8,903.2 L1737.2,907.4 L1731.3,911.8 L1725.4,916.1 L1719.8,920.3 L1714.9,924.3 L1710.9,927.9 L1708.0,931.0 L1706.5,933.5 L1706.4,935.5 L1695.4,908.6 L1695.5,906.7 L1697.0,904.1 L1699.9,901.0 L1703.9,897.5 L1708.8,893.5 L1714.4,889.3 L1720.3,884.9 L1726.2,880.6 L1731.8,876.4 L1736.8,872.4 L1740.8,868.9 L1743.6,865.8 L1745.1,863.2 L1745.2,861.3 Z" fill="#2C78C6" stroke="#1a1a1a" stroke-width="1.6" stroke-linejoin="round"/>
<path d="M1775.1,934.3 L1775.0,936.2 L1773.5,938.8 L1770.7,941.9 L1766.7,945.5 L1761.7,949.4 L1756.1,953.6 L1750.2,958.0 L1744.3,962.3 L1738.7,966.5 L1733.8,970.5 L1729.8,974.0 L1726.9,977.1 L1725.4,979.7 L1725.3,981.6 L1714.3,954.8 L1714.4,952.8 L1715.9,950.3 L1718.8,947.2 L1722.8,943.6 L1727.7,939.7 L1733.3,935.5 L1739.2,931.1 L1745.1,926.8 L1750.7,922.6 L1755.7,918.6 L1759.7,915.0 L1762.5,912.0 L1764.1,909.4 L1764.1,907.5 Z" fill="#2C78C6" stroke="#1a1a1a" stroke-width="1.6" stroke-linejoin="round"/>
<path d="M1794.0,980.5 L1794.0,982.4 L1792.4,985.0 L1789.6,988.1 L1785.6,991.6 L1780.6,995.6 L1775.0,999.8 L1769.1,1004.1 L1763.2,1008.5 L1757.6,1012.7 L1752.7,1016.7 L1748.7,1020.2 L1745.8,1023.3 L1744.3,1025.9 L1744.2,1027.8 L1733.3,1001.0 L1733.3,999.0 L1734.8,996.5 L1737.7,993.4 L1741.7,989.8 L1746.6,985.9 L1752.2,981.7 L1758.1,977.3 L1764.1,973.0 L1769.6,968.7 L1774.6,964.8 L1778.6,961.2 L1781.4,958.1 L1783.0,955.6 L1783.0,953.6 Z" fill="#2C78C6" stroke="#1a1a1a" stroke-width="1.6" stroke-linejoin="round"/>
<path d="M1812.9,1026.7 L1812.9,1028.6 L1811.3,1031.2 L1808.5,1034.3 L1804.5,1037.8 L1799.5,1041.8 L1794.0,1046.0 L1788.0,1050.3 L1782.1,1054.7 L1776.5,1058.9 L1771.6,1062.8 L1767.6,1066.4 L1764.7,1069.5 L1763.2,1072.0 L1763.2,1074.0 L1752.2,1047.2 L1752.2,1045.2 L1753.7,1042.7 L1756.6,1039.6 L1760.6,1036.0 L1765.6,1032.1 L1771.1,1027.8 L1777.1,1023.5 L1783.0,1019.1 L1788.5,1014.9 L1793.5,1011.0 L1797.5,1007.4 L1800.4,1004.3 L1801.9,1001.8 L1801.9,999.8 Z" fill="#2C78C6" stroke="#1a1a1a" stroke-width="1.6" stroke-linejoin="round"/>
<path d="M1806.2,868.7 L1807.3,870.3 L1810.3,871.8 L1815.1,873.2 L1821.5,874.5 L1829.2,875.8 L1837.7,877.1 L1846.7,878.3 L1855.6,879.6 L1864.2,880.8 L1871.8,882.2 L1878.2,883.5 L1883.0,884.9 L1886.1,886.4 L1887.1,888.0 L1885.8,857.1 L1884.7,855.5 L1881.7,854.0 L1876.9,852.5 L1870.5,851.2 L1862.8,849.9 L1854.3,848.6 L1845.3,847.4 L1836.4,846.1 L1827.8,844.9 L1820.2,843.6 L1813.8,842.2 L1809.0,840.8 L1805.9,839.3 L1804.9,837.7 Z" fill="#2462A6" stroke="#1a1a1a" stroke-width="1.6" stroke-linejoin="round"/>
<path d="M1808.2,914.4 L1809.3,916.0 L1812.3,917.5 L1817.1,918.9 L1823.5,920.2 L1831.2,921.5 L1839.7,922.8 L1848.7,924.1 L1857.6,925.3 L1866.2,926.6 L1873.8,927.9 L1880.2,929.2 L1885.0,930.6 L1888.1,932.1 L1889.1,933.7 L1887.8,902.8 L1886.7,901.2 L1883.7,899.7 L1878.9,898.2 L1872.5,896.9 L1864.8,895.6 L1856.3,894.3 L1847.3,893.1 L1838.4,891.8 L1829.8,890.6 L1822.2,889.3 L1815.8,887.9 L1811.0,886.5 L1807.9,885.0 L1806.9,883.4 Z" fill="#2462A6" stroke="#1a1a1a" stroke-width="1.6" stroke-linejoin="round"/>
<path d="M1810.2,960.1 L1811.3,961.7 L1814.3,963.2 L1819.1,964.6 L1825.5,966.0 L1833.2,967.3 L1841.7,968.5 L1850.7,969.8 L1859.6,971.0 L1868.2,972.3 L1875.8,973.6 L1882.2,974.9 L1887.0,976.4 L1890.1,977.9 L1891.1,979.5 L1889.8,948.5 L1888.7,946.9 L1885.7,945.4 L1880.9,944.0 L1874.5,942.6 L1866.8,941.3 L1858.3,940.0 L1849.3,938.8 L1840.4,937.6 L1831.8,936.3 L1824.2,935.0 L1817.8,933.6 L1813.0,932.2 L1809.9,930.7 L1808.9,929.1 Z" fill="#2462A6" stroke="#1a1a1a" stroke-width="1.6" stroke-linejoin="round"/>
<path d="M1885.1,842.3 L1884.2,844.0 L1881.3,845.7 L1876.6,847.6 L1870.4,849.5 L1862.9,851.5 L1854.5,853.5 L1845.7,855.5 L1836.9,857.5 L1828.5,859.5 L1821.0,861.5 L1814.7,863.4 L1810.0,865.2 L1807.1,867.0 L1806.2,868.7 L1804.9,837.7 L1805.8,836.0 L1808.7,834.3 L1813.4,832.4 L1819.6,830.5 L1827.1,828.5 L1835.5,826.5 L1844.3,824.5 L1853.1,822.5 L1861.5,820.5 L1869.0,818.5 L1875.3,816.6 L1880.0,814.8 L1882.9,813.0 L1883.8,811.3 Z" fill="#2C78C6" stroke="#1a1a1a" stroke-width="1.6" stroke-linejoin="round"/>
<path d="M1887.1,888.0 L1886.2,889.7 L1883.3,891.5 L1878.6,893.3 L1872.4,895.2 L1864.9,897.2 L1856.5,899.2 L1847.7,901.2 L1838.9,903.2 L1830.5,905.2 L1823.0,907.2 L1816.7,909.1 L1812.0,910.9 L1809.1,912.7 L1808.2,914.4 L1806.9,883.4 L1807.8,881.7 L1810.7,880.0 L1815.4,878.1 L1821.6,876.2 L1829.1,874.3 L1837.5,872.3 L1846.3,870.2 L1855.1,868.2 L1863.5,866.2 L1871.0,864.2 L1877.3,862.3 L1882.0,860.5 L1884.9,858.7 L1885.8,857.1 Z" fill="#2C78C6" stroke="#1a1a1a" stroke-width="1.6" stroke-linejoin="round"/>
<path d="M1889.1,933.7 L1888.2,935.4 L1885.3,937.2 L1880.6,939.0 L1874.4,940.9 L1866.9,942.9 L1858.5,944.9 L1849.7,946.9 L1840.9,948.9 L1832.5,950.9 L1825.0,952.9 L1818.7,954.8 L1814.0,956.7 L1811.1,958.4 L1810.2,960.1 L1808.9,929.1 L1809.8,927.4 L1812.7,925.7 L1817.4,923.8 L1823.6,921.9 L1831.1,920.0 L1839.5,918.0 L1848.3,915.9 L1857.1,913.9 L1865.5,911.9 L1873.0,910.0 L1879.3,908.0 L1884.0,906.2 L1886.9,904.4 L1887.8,902.8 Z" fill="#2C78C6" stroke="#1a1a1a" stroke-width="1.6" stroke-linejoin="round"/>
<path d="M1891.1,979.5 L1890.2,981.1 L1887.3,982.9 L1882.6,984.7 L1876.4,986.6 L1868.9,988.6 L1860.5,990.6 L1851.7,992.6 L1842.9,994.6 L1834.5,996.7 L1827.0,998.6 L1820.7,1000.5 L1816.0,1002.4 L1813.1,1004.1 L1812.2,1005.8 L1810.9,974.8 L1811.8,973.2 L1814.7,971.4 L1819.4,969.6 L1825.6,967.6 L1833.1,965.7 L1841.5,963.7 L1850.3,961.7 L1859.1,959.6 L1867.5,957.6 L1875.0,955.7 L1881.3,953.8 L1886.0,951.9 L1888.9,950.2 L1889.8,948.5 Z" fill="#2C78C6" stroke="#1a1a1a" stroke-width="1.6" stroke-linejoin="round"/>
<path d="M1791.1,1037.2 L1792.4,1038.3 L1795.4,1038.9 L1799.9,1039.1 L1805.8,1038.8 L1812.7,1038.2 L1820.4,1037.4 L1828.5,1036.4 L1836.6,1035.5 L1844.3,1034.6 L1851.3,1034.1 L1857.2,1033.8 L1861.7,1033.9 L1864.7,1034.5 L1866.0,1035.7 L1856.9,1006.0 L1855.6,1004.9 L1852.6,1004.3 L1848.1,1004.1 L1842.2,1004.4 L1835.3,1005.0 L1827.6,1005.8 L1819.5,1006.8 L1811.4,1007.7 L1803.7,1008.6 L1796.7,1009.1 L1790.8,1009.4 L1786.3,1009.3 L1783.3,1008.7 L1782.0,1007.5 Z" fill="#2462A6" stroke="#1a1a1a" stroke-width="1.6" stroke-linejoin="round"/>
<path d="M1803.1,1076.4 L1804.4,1077.5 L1807.4,1078.1 L1811.9,1078.3 L1817.8,1078.0 L1824.7,1077.4 L1832.4,1076.6 L1840.5,1075.6 L1848.6,1074.7 L1856.3,1073.8 L1863.3,1073.3 L1869.2,1073.0 L1873.7,1073.1 L1876.7,1073.7 L1878.0,1074.9 L1868.9,1045.2 L1867.6,1044.1 L1864.6,1043.5 L1860.1,1043.3 L1854.2,1043.6 L1847.3,1044.2 L1839.6,1045.0 L1831.5,1046.0 L1823.4,1046.9 L1815.7,1047.8 L1808.7,1048.3 L1802.8,1048.6 L1798.3,1048.5 L1795.3,1047.9 L1794.0,1046.7 Z" fill="#2462A6" stroke="#1a1a1a" stroke-width="1.6" stroke-linejoin="round"/>
<path d="M1854.0,996.5 L1853.5,998.1 L1851.4,1000.3 L1847.7,1003.0 L1842.7,1006.1 L1836.6,1009.4 L1829.8,1013.1 L1822.5,1016.8 L1815.3,1020.6 L1808.5,1024.2 L1802.4,1027.6 L1797.3,1030.7 L1793.7,1033.3 L1791.5,1035.5 L1791.1,1037.2 L1782.0,1007.5 L1782.5,1005.9 L1784.6,1003.7 L1788.3,1001.0 L1793.3,997.9 L1799.4,994.6 L1806.2,990.9 L1813.5,987.2 L1820.7,983.4 L1827.5,979.8 L1833.6,976.4 L1838.7,973.3 L1842.3,970.7 L1844.5,968.5 L1844.9,966.8 Z" fill="#2C78C6" stroke="#1a1a1a" stroke-width="1.6" stroke-linejoin="round"/>
<path d="M1866.0,1035.7 L1865.5,1037.3 L1863.4,1039.5 L1859.7,1042.2 L1854.7,1045.3 L1848.6,1048.6 L1841.8,1052.3 L1834.5,1056.0 L1827.3,1059.8 L1820.5,1063.4 L1814.4,1066.8 L1809.3,1069.9 L1805.7,1072.5 L1803.5,1074.7 L1803.1,1076.4 L1794.0,1046.7 L1794.5,1045.1 L1796.6,1042.9 L1800.3,1040.2 L1805.3,1037.1 L1811.4,1033.8 L1818.2,1030.1 L1825.5,1026.4 L1832.7,1022.6 L1839.5,1019.0 L1845.6,1015.6 L1850.7,1012.5 L1854.3,1009.9 L1856.5,1007.7 L1856.9,1006.0 Z" fill="#2C78C6" stroke="#1a1a1a" stroke-width="1.6" stroke-linejoin="round"/>
<path d="M1878.0,1074.9 L1877.5,1076.5 L1875.4,1078.7 L1871.7,1081.4 L1866.7,1084.5 L1860.6,1087.8 L1853.8,1091.5 L1846.5,1095.2 L1839.3,1099.0 L1832.5,1102.6 L1826.4,1106.0 L1821.3,1109.1 L1817.7,1111.7 L1815.5,1113.9 L1815.1,1115.6 L1806.0,1085.9 L1806.5,1084.3 L1808.6,1082.1 L1812.3,1079.4 L1817.3,1076.3 L1823.4,1073.0 L1830.2,1069.3 L1837.5,1065.6 L1844.7,1061.8 L1851.5,1058.2 L1857.6,1054.8 L1862.7,1051.7 L1866.3,1049.1 L1868.5,1046.9 L1868.9,1045.2 Z" fill="#2C78C6" stroke="#1a1a1a" stroke-width="1.6" stroke-linejoin="round"/>
<path d="M1911.6,1071.5 L1942.5,926.6 L1954.1,929.1 L1935.0,880.0 L1897.6,917.0 L1909.2,919.5 L1878.4,1064.5 Z" fill="#2C78C6" stroke="#1a1a1a" stroke-width="1.6" stroke-linejoin="round"/>
<path d="M2000.9,1081.0 L2075.3,1018.7 L2081.8,1026.5 L2095.0,980.0 L2046.9,984.8 L2053.4,992.7 L1979.1,1055.0 Z" fill="#2C78C6" stroke="#1a1a1a" stroke-width="1.6" stroke-linejoin="round"/>
<path d="M1911.7,991.4 L1913.7,992.1 L1917.1,991.5 L1921.8,989.8 L1927.8,987.1 L1934.8,983.6 L1942.4,979.5 L1950.3,975.1 L1958.3,970.7 L1965.9,966.6 L1972.8,963.1 L1978.8,960.4 L1983.6,958.7 L1987.0,958.1 L1988.9,958.8 L1970.3,936.6 L1968.3,935.9 L1964.9,936.5 L1960.2,938.2 L1954.2,940.9 L1947.2,944.4 L1939.6,948.5 L1931.7,952.9 L1923.7,957.3 L1916.1,961.4 L1909.2,964.9 L1903.2,967.6 L1898.4,969.3 L1895.0,969.9 L1893.1,969.2 Z" fill="#2462A6" stroke="#1a1a1a" stroke-width="1.6" stroke-linejoin="round"/>
<path d="M1943.7,1029.4 L1945.7,1030.1 L1949.1,1029.5 L1953.8,1027.8 L1959.8,1025.1 L1966.8,1021.6 L1974.4,1017.5 L1982.3,1013.1 L1990.3,1008.7 L1997.9,1004.6 L2004.8,1001.1 L2010.8,998.4 L2015.6,996.7 L2019.0,996.1 L2020.9,996.8 L2002.3,974.6 L2000.3,973.9 L1996.9,974.5 L1992.2,976.2 L1986.2,978.9 L1979.2,982.4 L1971.6,986.5 L1963.7,990.9 L1955.7,995.3 L1948.1,999.4 L1941.2,1002.9 L1935.2,1005.6 L1930.4,1007.3 L1927.0,1007.9 L1925.1,1007.2 Z" fill="#2462A6" stroke="#1a1a1a" stroke-width="1.6" stroke-linejoin="round"/>
<path d="M1956.9,920.8 L1957.3,922.8 L1956.2,926.1 L1953.7,930.5 L1950.0,936.0 L1945.3,942.2 L1940.0,949.0 L1934.3,956.1 L1928.7,963.2 L1923.4,970.0 L1918.7,976.2 L1915.0,981.7 L1912.5,986.1 L1911.4,989.4 L1911.7,991.4 L1893.1,969.2 L1892.7,967.2 L1893.8,963.9 L1896.3,959.5 L1900.0,954.0 L1904.7,947.8 L1910.0,941.0 L1915.7,933.9 L1921.3,926.8 L1926.6,920.0 L1931.3,913.8 L1935.0,908.3 L1937.5,903.9 L1938.6,900.6 L1938.3,898.6 Z" fill="#2C78C6" stroke="#1a1a1a" stroke-width="1.6" stroke-linejoin="round"/>
<path d="M1988.9,958.8 L1989.3,960.8 L1988.2,964.1 L1985.7,968.5 L1982.0,974.0 L1977.3,980.2 L1972.0,987.0 L1966.3,994.1 L1960.7,1001.2 L1955.4,1008.0 L1950.7,1014.2 L1947.0,1019.7 L1944.5,1024.1 L1943.4,1027.4 L1943.7,1029.4 L1925.1,1007.2 L1924.7,1005.2 L1925.8,1001.9 L1928.3,997.5 L1932.0,992.0 L1936.7,985.8 L1942.0,979.0 L1947.7,971.9 L1953.3,964.8 L1958.6,958.0 L1963.3,951.8 L1967.0,946.3 L1969.5,941.9 L1970.6,938.6 L1970.3,936.6 Z" fill="#2C78C6" stroke="#1a1a1a" stroke-width="1.6" stroke-linejoin="round"/>
<path d="M2020.9,996.8 L2021.3,998.8 L2020.2,1002.1 L2017.7,1006.5 L2014.0,1012.0 L2009.3,1018.2 L2004.0,1025.0 L1998.3,1032.1 L1992.7,1039.2 L1987.4,1046.0 L1982.7,1052.2 L1979.0,1057.7 L1976.5,1062.1 L1975.4,1065.4 L1975.7,1067.4 L1957.1,1045.2 L1956.7,1043.2 L1957.8,1039.9 L1960.3,1035.5 L1964.0,1030.0 L1968.7,1023.8 L1974.0,1017.0 L1979.7,1009.9 L1985.3,1002.8 L1990.6,996.0 L1995.3,989.8 L1999.0,984.3 L2001.5,979.9 L2002.6,976.6 L2002.3,974.6 Z" fill="#2C78C6" stroke="#1a1a1a" stroke-width="1.6" stroke-linejoin="round"/>
<path d="M2016.7,939.6 L2018.6,941.0 L2022.1,941.5 L2027.1,941.1 L2033.4,940.0 L2040.7,938.3 L2048.8,936.2 L2057.2,933.8 L2065.6,931.5 L2073.7,929.4 L2081.0,927.7 L2087.3,926.6 L2092.3,926.2 L2095.8,926.7 L2097.7,928.1 L2083.3,902.9 L2081.4,901.5 L2077.9,901.0 L2072.9,901.4 L2066.6,902.5 L2059.3,904.2 L2051.2,906.3 L2042.8,908.7 L2034.4,911.0 L2026.3,913.1 L2019.0,914.8 L2012.7,915.9 L2007.7,916.3 L2004.2,915.8 L2002.3,914.4 Z" fill="#2462A6" stroke="#1a1a1a" stroke-width="1.6" stroke-linejoin="round"/>
<path d="M2046.7,992.1 L2048.6,993.5 L2052.1,994.0 L2057.1,993.6 L2063.4,992.5 L2070.7,990.8 L2078.8,988.7 L2087.2,986.3 L2095.6,984.0 L2103.7,981.9 L2111.0,980.2 L2117.3,979.1 L2122.3,978.7 L2125.8,979.2 L2127.7,980.6 L2113.3,955.4 L2111.4,954.0 L2107.9,953.5 L2102.9,953.9 L2096.6,955.0 L2089.3,956.7 L2081.2,958.8 L2072.8,961.2 L2064.4,963.5 L2056.3,965.6 L2049.0,967.3 L2042.7,968.4 L2037.7,968.8 L2034.2,968.3 L2032.3,966.9 Z" fill="#2462A6" stroke="#1a1a1a" stroke-width="1.6" stroke-linejoin="round"/>
<path d="M2068.0,876.1 L2067.9,878.0 L2066.6,881.2 L2063.7,885.3 L2059.6,890.2 L2054.4,895.7 L2048.5,901.5 L2042.2,907.6 L2035.9,913.7 L2030.0,919.5 L2024.8,925.0 L2020.7,929.8 L2017.8,934.0 L2016.5,937.2 L2016.7,939.6 L2002.3,914.4 L2002.1,912.0 L2003.4,908.8 L2006.3,904.7 L2010.4,899.8 L2015.6,894.3 L2021.5,888.5 L2027.8,882.4 L2034.1,876.3 L2040.0,870.5 L2045.2,865.0 L2049.3,860.2 L2052.2,856.0 L2053.5,852.8 L2053.6,851.0 Z" fill="#2C78C6" stroke="#1a1a1a" stroke-width="1.6" stroke-linejoin="round"/>
<path d="M2097.7,928.1 L2097.9,930.5 L2096.6,933.7 L2093.7,937.8 L2089.6,942.7 L2084.4,948.2 L2078.5,954.0 L2072.2,960.1 L2065.9,966.2 L2060.0,972.0 L2054.8,977.5 L2050.7,982.3 L2047.8,986.5 L2046.5,989.7 L2046.7,992.1 L2032.3,966.9 L2032.1,964.5 L2033.4,961.3 L2036.3,957.2 L2040.4,952.3 L2045.6,946.8 L2051.5,941.0 L2057.8,934.9 L2064.1,928.8 L2070.0,923.0 L2075.2,917.5 L2079.3,912.7 L2082.2,908.5 L2083.5,905.3 L2083.3,902.9 Z" fill="#2C78C6" stroke="#1a1a1a" stroke-width="1.6" stroke-linejoin="round"/>
<path d="M1892.8,1166.0 L1894.6,1165.1 L1896.4,1162.4 L1898.2,1158.1 L1900.0,1152.4 L1901.9,1145.6 L1903.7,1138.0 L1905.5,1130.0 L1907.3,1122.0 L1909.1,1114.4 L1911.0,1107.6 L1912.8,1101.9 L1914.6,1097.6 L1916.4,1094.9 L1918.2,1094.0 L1894.2,1094.0 L1892.4,1094.9 L1890.6,1097.6 L1888.8,1101.9 L1887.0,1107.6 L1885.1,1114.4 L1883.3,1122.0 L1881.5,1130.0 L1879.7,1138.0 L1877.9,1145.6 L1876.0,1152.4 L1874.2,1158.1 L1872.4,1162.4 L1870.6,1165.1 L1868.8,1166.0 Z" fill="#2462A6" stroke="#1a1a1a" stroke-width="1.6" stroke-linejoin="round"/>
<path d="M1943.8,1166.0 L1945.6,1165.1 L1947.4,1162.4 L1949.2,1158.1 L1951.0,1152.4 L1952.9,1145.6 L1954.7,1138.0 L1956.5,1130.0 L1958.3,1122.0 L1960.1,1114.4 L1962.0,1107.6 L1963.8,1101.9 L1965.6,1097.6 L1967.4,1094.9 L1969.2,1094.0 L1945.2,1094.0 L1943.4,1094.9 L1941.6,1097.6 L1939.8,1101.9 L1938.0,1107.6 L1936.1,1114.4 L1934.3,1122.0 L1932.5,1130.0 L1930.7,1138.0 L1928.9,1145.6 L1927.0,1152.4 L1925.2,1158.1 L1923.4,1162.4 L1921.6,1165.1 L1919.8,1166.0 Z" fill="#2462A6" stroke="#1a1a1a" stroke-width="1.6" stroke-linejoin="round"/>
<path d="M1994.8,1166.0 L1996.6,1165.1 L1998.4,1162.4 L2000.2,1158.1 L2002.0,1152.4 L2003.9,1145.6 L2005.7,1138.0 L2007.5,1130.0 L2009.3,1122.0 L2011.1,1114.4 L2013.0,1107.6 L2014.8,1101.9 L2016.6,1097.6 L2018.4,1094.9 L2020.2,1094.0 L1996.2,1094.0 L1994.4,1094.9 L1992.6,1097.6 L1990.8,1101.9 L1989.0,1107.6 L1987.1,1114.4 L1985.3,1122.0 L1983.5,1130.0 L1981.7,1138.0 L1979.9,1145.6 L1978.0,1152.4 L1976.2,1158.1 L1974.4,1162.4 L1972.6,1165.1 L1970.8,1166.0 Z" fill="#2462A6" stroke="#1a1a1a" stroke-width="1.6" stroke-linejoin="round"/>
<path d="M2045.8,1166.0 L2047.6,1165.1 L2049.4,1162.4 L2051.2,1158.1 L2053.0,1152.4 L2054.9,1145.6 L2056.7,1138.0 L2058.5,1130.0 L2060.3,1122.0 L2062.1,1114.4 L2064.0,1107.6 L2065.8,1101.9 L2067.6,1097.6 L2069.4,1094.9 L2071.2,1094.0 L2047.2,1094.0 L2045.4,1094.9 L2043.6,1097.6 L2041.8,1101.9 L2040.0,1107.6 L2038.1,1114.4 L2036.3,1122.0 L2034.5,1130.0 L2032.7,1138.0 L2030.9,1145.6 L2029.0,1152.4 L2027.2,1158.1 L2025.4,1162.4 L2023.6,1165.1 L2021.8,1166.0 Z" fill="#2462A6" stroke="#1a1a1a" stroke-width="1.6" stroke-linejoin="round"/>
<path d="M1868.0,1094.0 L1869.1,1094.9 L1870.9,1097.6 L1872.7,1101.9 L1874.5,1107.6 L1876.4,1114.4 L1878.2,1122.0 L1880.0,1130.0 L1881.8,1138.0 L1883.6,1145.6 L1885.5,1152.4 L1887.3,1158.1 L1889.1,1162.4 L1890.9,1165.1 L1892.8,1166.0 L1868.8,1166.0 L1866.9,1165.1 L1865.1,1162.4 L1863.3,1158.1 L1861.5,1152.4 L1859.6,1145.6 L1857.8,1138.0 L1856.0,1130.0 L1854.2,1122.0 L1852.4,1114.4 L1850.5,1107.6 L1848.7,1101.9 L1846.9,1097.6 L1845.1,1094.9 L1844.0,1094.0 Z" fill="#2C78C6" stroke="#1a1a1a" stroke-width="1.6" stroke-linejoin="round"/>
<path d="M1918.2,1094.0 L1920.1,1094.9 L1921.9,1097.6 L1923.7,1101.9 L1925.5,1107.6 L1927.4,1114.4 L1929.2,1122.0 L1931.0,1130.0 L1932.8,1138.0 L1934.6,1145.6 L1936.5,1152.4 L1938.3,1158.1 L1940.1,1162.4 L1941.9,1165.1 L1943.8,1166.0 L1919.8,1166.0 L1917.9,1165.1 L1916.1,1162.4 L1914.3,1158.1 L1912.5,1152.4 L1910.6,1145.6 L1908.8,1138.0 L1907.0,1130.0 L1905.2,1122.0 L1903.4,1114.4 L1901.5,1107.6 L1899.7,1101.9 L1897.9,1097.6 L1896.1,1094.9 L1894.2,1094.0 Z" fill="#2C78C6" stroke="#1a1a1a" stroke-width="1.6" stroke-linejoin="round"/>
<path d="M1969.2,1094.0 L1971.1,1094.9 L1972.9,1097.6 L1974.7,1101.9 L1976.5,1107.6 L1978.4,1114.4 L1980.2,1122.0 L1982.0,1130.0 L1983.8,1138.0 L1985.6,1145.6 L1987.5,1152.4 L1989.3,1158.1 L1991.1,1162.4 L1992.9,1165.1 L1994.8,1166.0 L1970.8,1166.0 L1968.9,1165.1 L1967.1,1162.4 L1965.3,1158.1 L1963.5,1152.4 L1961.6,1145.6 L1959.8,1138.0 L1958.0,1130.0 L1956.2,1122.0 L1954.4,1114.4 L1952.5,1107.6 L1950.7,1101.9 L1948.9,1097.6 L1947.1,1094.9 L1945.2,1094.0 Z" fill="#2C78C6" stroke="#1a1a1a" stroke-width="1.6" stroke-linejoin="round"/>
<path d="M2020.2,1094.0 L2022.1,1094.9 L2023.9,1097.6 L2025.7,1101.9 L2027.5,1107.6 L2029.4,1114.4 L2031.2,1122.0 L2033.0,1130.0 L2034.8,1138.0 L2036.6,1145.6 L2038.5,1152.4 L2040.3,1158.1 L2042.1,1162.4 L2043.9,1165.1 L2045.8,1166.0 L2021.8,1166.0 L2019.9,1165.1 L2018.1,1162.4 L2016.3,1158.1 L2014.5,1152.4 L2012.6,1145.6 L2010.8,1138.0 L2009.0,1130.0 L2007.2,1122.0 L2005.4,1114.4 L2003.5,1107.6 L2001.7,1101.9 L1999.9,1097.6 L1998.1,1094.9 L1996.2,1094.0 Z" fill="#2C78C6" stroke="#1a1a1a" stroke-width="1.6" stroke-linejoin="round"/>
<path d="M2071.2,735.4 L2072.6,736.4 L2074.9,736.7 L2078.1,736.4 L2082.0,735.5 L2086.4,734.2 L2091.3,732.7 L2096.4,731.0 L2101.4,729.3 L2106.3,727.7 L2110.8,726.4 L2114.7,725.6 L2117.8,725.3 L2120.1,725.6 L2121.5,726.5 L2102.8,700.6 L2101.4,699.6 L2099.1,699.3 L2095.9,699.6 L2092.0,700.5 L2087.6,701.8 L2082.7,703.3 L2077.6,705.0 L2072.6,706.7 L2067.7,708.3 L2063.2,709.6 L2059.3,710.4 L2056.2,710.7 L2053.9,710.4 L2052.5,709.5 Z" fill="#2462A6" stroke="#1a1a1a" stroke-width="1.6" stroke-linejoin="round"/>
<path d="M2095.5,690.5 L2096.0,692.1 L2095.5,694.4 L2094.2,697.3 L2092.2,700.7 L2089.6,704.6 L2086.6,708.7 L2083.4,713.0 L2080.1,717.3 L2077.1,721.4 L2074.5,725.2 L2072.5,728.6 L2071.2,731.5 L2070.8,733.8 L2071.2,735.4 L2052.5,709.5 L2052.0,707.9 L2052.5,705.6 L2053.8,702.7 L2055.8,699.3 L2058.4,695.4 L2061.4,691.3 L2064.6,687.0 L2067.9,682.7 L2070.9,678.6 L2073.5,674.8 L2075.5,671.4 L2076.8,668.5 L2077.2,666.2 L2076.8,664.6 Z" fill="#2C78C6" stroke="#1a1a1a" stroke-width="1.6" stroke-linejoin="round"/>
<path d="M1976.3,851.3 L1978.6,853.3 L1981.9,854.5 L1986.3,855.0 L1991.6,854.9 L1997.7,854.2 L2004.2,853.2 L2011.0,852.0 L2017.8,850.8 L2024.3,849.8 L2030.3,849.2 L2035.6,849.0 L2040.0,849.5 L2043.4,850.7 L2045.6,852.7 L2026.7,825.7 L2024.4,823.7 L2021.1,822.5 L2016.7,822.0 L2011.4,822.1 L2005.3,822.8 L1998.8,823.8 L1992.0,825.0 L1985.2,826.2 L1978.7,827.2 L1972.7,827.8 L1967.4,828.0 L1963.0,827.5 L1959.6,826.3 L1957.4,824.3 Z" fill="#2462A6" stroke="#1a1a1a" stroke-width="1.6" stroke-linejoin="round"/>
<path d="M2000.9,788.9 L2000.3,789.3 L1999.7,792.1 L1998.7,796.4 L1996.7,801.3 L1994.1,806.7 L1990.9,812.5 L1987.5,818.5 L1984.1,824.5 L1980.9,830.3 L1978.2,835.7 L1976.3,840.7 L1975.2,845.0 L1975.2,848.5 L1976.3,851.3 L1957.4,824.3 L1956.2,821.5 L1956.3,817.9 L1957.3,813.6 L1959.3,808.7 L1961.9,803.3 L1965.1,797.5 L1968.5,791.5 L1971.9,785.5 L1975.1,779.7 L1977.8,774.3 L1979.7,769.3 L1980.8,765.0 L1981.4,762.3 L1982.0,761.9 Z" fill="#2C78C6" stroke="#1a1a1a" stroke-width="1.6" stroke-linejoin="round"/>
<path d="M1890.0,838.2 L1892.2,839.8 L1895.1,840.6 L1898.9,840.8 L1903.2,840.5 L1908.1,839.6 L1913.3,838.4 L1918.7,837.1 L1924.2,835.8 L1929.4,834.6 L1934.3,833.8 L1938.6,833.4 L1942.3,833.6 L1945.3,834.5 L1947.5,836.1 L1930.0,816.8 L1927.8,815.2 L1924.9,814.4 L1921.1,814.2 L1916.8,814.5 L1911.9,815.4 L1906.7,816.6 L1901.3,817.9 L1895.8,819.2 L1890.6,820.4 L1885.7,821.2 L1881.4,821.6 L1877.7,821.4 L1874.7,820.5 L1872.5,818.9 Z" fill="#2462A6" stroke="#1a1a1a" stroke-width="1.6" stroke-linejoin="round"/>
<path d="M1901.3,785.2 L1900.9,785.6 L1899.7,786.7 L1899.3,790.2 L1898.5,794.5 L1897.2,799.3 L1895.6,804.4 L1893.7,809.6 L1891.9,814.9 L1890.3,820.0 L1889.0,824.7 L1888.2,829.0 L1888.0,832.8 L1888.6,835.8 L1890.0,838.2 L1872.5,818.9 L1871.1,816.6 L1870.5,813.5 L1870.7,809.8 L1871.5,805.5 L1872.8,800.7 L1874.4,795.6 L1876.3,790.4 L1878.1,785.1 L1879.7,780.0 L1881.0,775.3 L1881.8,771.0 L1882.2,767.4 L1883.4,766.3 L1883.8,766.0 Z" fill="#2C78C6" stroke="#1a1a1a" stroke-width="1.6" stroke-linejoin="round"/>
<path d="M1852.0,830.0 L1900.0,795.0 L1900.0,832.0 Z" fill="#2C78C6" stroke="#1a1a1a" stroke-width="1.6" stroke-linejoin="round"/>
<path d="M1733.5,846 C1740,800 1760,770 1800,762 C1820,758 1830,756 1842,756.8 L1880,765 C1895,780 1900,805 1944.6,806.3" fill="none" stroke="#1a1a1a" stroke-width="8.5" stroke-linecap="round"/>
<path d="M1733.5,846 C1740,800 1760,770 1800,762 C1820,758 1830,756 1842,756.8 L1880,765 C1895,780 1900,805 1944.6,806.3" fill="none" stroke="#86C440" stroke-width="6" stroke-linecap="round"/>
<path d="M1839,747 L1877,762 L1841,779 Z" fill="#86C440" stroke="#1a1a1a" stroke-width="1.5"/>
<path d="M1925,760 L1960,748 L1975,760 L1960,790 L1975,800 L1990,770 L2005,780 L1995,820 L2020,835 L2040,850 L2045,870 L2060,860 L2070,890 L2055,900" fill="none" stroke="#555" stroke-width="6" stroke-linejoin="round"/>
<path d="M1975,770 L1995,790 L1990,810" fill="none" stroke="#E87020" stroke-width="5"/>
<path d="M1893,700 L1895,720 L1880,745 L1870,760" fill="none" stroke="#7A7A30" stroke-width="5"/>
<path d="M1660,718 C1700,712 1740,728 1760,750" fill="none" stroke="#1a1a1a" stroke-width="9" stroke-linecap="round"/>
<path d="M1660,718 C1700,712 1740,728 1760,750" fill="none" stroke="#86C440" stroke-width="6.5" stroke-linecap="round"/>
<path d="M1748,742 L1772,757 L1762,730 Z" fill="#86C440" stroke="#1a1a1a" stroke-width="1.5"/>
<path d="M2136.5,769.5 C2130,800 2090,815 2055,825" fill="none" stroke="#666" stroke-width="9" stroke-linecap="round"/>
<path d="M2058,814 L2040,827 L2062,836 Z" fill="#777" stroke="#444" stroke-width="1.5"/>
<text class="s" x="1517" y="721.7" font-size="35" fill="#222" textLength="131" lengthAdjust="spacingAndGlyphs">Peptide</text>
<text class="s" x="1501" y="766" font-size="35" fill="#222" textLength="160" lengthAdjust="spacingAndGlyphs">substrate</text>
<text class="s" x="2097" y="761" font-size="35" fill="#222" textLength="76" lengthAdjust="spacingAndGlyphs">NAD</text>
<text class="s" x="2173" y="745" font-size="20" fill="#222">+</text>
<defs><radialGradient id="wg1" cx="0.6" cy="0.4" r="0.7"><stop offset="0" stop-color="#787878"/><stop offset="0.65" stop-color="#686868"/><stop offset="1" stop-color="#454545"/></radialGradient><radialGradient id="wg2" cx="0.55" cy="0.45" r="0.7"><stop offset="0" stop-color="#686868"/><stop offset="0.8" stop-color="#5e5e5e"/><stop offset="1" stop-color="#4e4e4e"/></radialGradient><filter id="tex" x="-2%" y="-2%" width="104%" height="104%"><feTurbulence type="fractalNoise" baseFrequency="0.12" numOctaves="3" seed="7" result="n"/><feColorMatrix in="n" type="matrix" values="0.33 0.33 0.33 0 0  0.33 0.33 0.33 0 0  0.33 0.33 0.33 0 0  0 0 0 0 1" result="g"/><feComposite in="SourceGraphic" in2="g" operator="arithmetic" k1="0" k2="1" k3="0.38" k4="-0.17" result="c"/><feComposite in="c" in2="SourceGraphic" operator="in"/></filter><filter id="tex1" x="-2%" y="-2%" width="104%" height="104%"><feTurbulence type="fractalNoise" baseFrequency="0.5" numOctaves="2" seed="2" result="n"/><feColorMatrix in="n" type="matrix" values="0.33 0.33 0.33 0 0  0.33 0.33 0.33 0 0  0.33 0.33 0.33 0 0  0 0 0 0 1" result="g"/><feComposite in="SourceGraphic" in2="g" operator="arithmetic" k1="0" k2="1" k3="0.25" k4="-0.125" result="c"/><feComposite in="c" in2="SourceGraphic" operator="in"/></filter></defs>
<clipPath id="cw1"><path d="M1362.0,1365.0 C1370.0,1353.7 1380.7,1341.7 1393.0,1337.0 C1405.3,1332.3 1424.2,1334.0 1436.0,1337.0 C1447.8,1340.0 1452.2,1350.3 1464.0,1355.0 C1475.8,1359.7 1496.3,1360.0 1507.0,1365.0 C1517.7,1370.0 1524.0,1374.5 1528.0,1385.0 C1532.0,1395.5 1531.2,1417.7 1531.0,1428.0 C1530.8,1438.3 1529.2,1435.3 1526.5,1447.0 C1523.8,1458.7 1518.8,1482.3 1515.0,1498.0 C1511.2,1513.7 1508.7,1529.2 1504.0,1541.0 C1499.3,1552.8 1491.8,1557.2 1487.0,1569.0 C1482.2,1580.8 1479.8,1602.0 1475.0,1612.0 C1470.2,1622.0 1457.5,1619.5 1458.0,1629.0 C1458.5,1638.5 1473.2,1653.8 1478.0,1669.0 C1482.8,1684.2 1481.8,1706.8 1487.0,1720.0 C1492.2,1733.2 1504.1,1737.7 1509.5,1748.0 C1514.9,1758.3 1519.0,1770.7 1519.4,1782.0 C1519.8,1793.3 1517.4,1806.5 1512.0,1816.0 C1506.6,1825.5 1496.0,1833.8 1487.0,1839.0 C1478.0,1844.2 1472.2,1849.0 1458.0,1847.0 C1443.8,1845.0 1418.5,1836.0 1402.0,1827.0 C1385.5,1818.0 1372.3,1807.2 1359.0,1793.0 C1345.7,1778.8 1333.3,1765.2 1322.0,1742.0 C1310.7,1718.8 1297.3,1680.4 1291.0,1654.0 C1284.7,1627.6 1283.0,1603.3 1284.0,1583.5 C1285.0,1563.7 1293.5,1551.6 1297.0,1535.0 C1300.5,1518.4 1300.8,1499.5 1305.0,1484.0 C1309.2,1468.5 1315.3,1455.2 1322.0,1442.0 C1328.7,1428.8 1338.3,1417.8 1345.0,1405.0 C1351.7,1392.2 1354.0,1376.3 1362.0,1365.0 Z"/></clipPath>
<g clip-path="url(#cw1)"><path d="M1362.0,1365.0 C1370.0,1353.7 1380.7,1341.7 1393.0,1337.0 C1405.3,1332.3 1424.2,1334.0 1436.0,1337.0 C1447.8,1340.0 1452.2,1350.3 1464.0,1355.0 C1475.8,1359.7 1496.3,1360.0 1507.0,1365.0 C1517.7,1370.0 1524.0,1374.5 1528.0,1385.0 C1532.0,1395.5 1531.2,1417.7 1531.0,1428.0 C1530.8,1438.3 1529.2,1435.3 1526.5,1447.0 C1523.8,1458.7 1518.8,1482.3 1515.0,1498.0 C1511.2,1513.7 1508.7,1529.2 1504.0,1541.0 C1499.3,1552.8 1491.8,1557.2 1487.0,1569.0 C1482.2,1580.8 1479.8,1602.0 1475.0,1612.0 C1470.2,1622.0 1457.5,1619.5 1458.0,1629.0 C1458.5,1638.5 1473.2,1653.8 1478.0,1669.0 C1482.8,1684.2 1481.8,1706.8 1487.0,1720.0 C1492.2,1733.2 1504.1,1737.7 1509.5,1748.0 C1514.9,1758.3 1519.0,1770.7 1519.4,1782.0 C1519.8,1793.3 1517.4,1806.5 1512.0,1816.0 C1506.6,1825.5 1496.0,1833.8 1487.0,1839.0 C1478.0,1844.2 1472.2,1849.0 1458.0,1847.0 C1443.8,1845.0 1418.5,1836.0 1402.0,1827.0 C1385.5,1818.0 1372.3,1807.2 1359.0,1793.0 C1345.7,1778.8 1333.3,1765.2 1322.0,1742.0 C1310.7,1718.8 1297.3,1680.4 1291.0,1654.0 C1284.7,1627.6 1283.0,1603.3 1284.0,1583.5 C1285.0,1563.7 1293.5,1551.6 1297.0,1535.0 C1300.5,1518.4 1300.8,1499.5 1305.0,1484.0 C1309.2,1468.5 1315.3,1455.2 1322.0,1442.0 C1328.7,1428.8 1338.3,1417.8 1345.0,1405.0 C1351.7,1392.2 1354.0,1376.3 1362.0,1365.0 Z" fill="url(#wg1)" filter="url(#tex1)"/>
<path d="M1280.0,1398.0 Q1410.0,1398.0 1540.0,1412.0" fill="none" stroke="#3a3a3a" stroke-width="2.6" opacity="0.8"/>
<path d="M1280.0,1402.0 Q1410.0,1402.0 1540.0,1416.0" fill="none" stroke="#8e8e8e" stroke-width="2.2" opacity="0.55"/>
<path d="M1280.0,1415.5 Q1410.0,1415.5 1540.0,1429.5" fill="none" stroke="#3a3a3a" stroke-width="2.6" opacity="0.8"/>
<path d="M1280.0,1419.5 Q1410.0,1419.5 1540.0,1433.5" fill="none" stroke="#8e8e8e" stroke-width="2.2" opacity="0.55"/>
<path d="M1280.0,1433.0 Q1410.0,1433.0 1540.0,1447.0" fill="none" stroke="#3a3a3a" stroke-width="2.6" opacity="0.8"/>
<path d="M1280.0,1437.0 Q1410.0,1437.0 1540.0,1451.0" fill="none" stroke="#8e8e8e" stroke-width="2.2" opacity="0.55"/>
<path d="M1280.0,1450.5 Q1410.0,1450.5 1540.0,1464.5" fill="none" stroke="#3a3a3a" stroke-width="2.6" opacity="0.8"/>
<path d="M1280.0,1454.5 Q1410.0,1454.5 1540.0,1468.5" fill="none" stroke="#8e8e8e" stroke-width="2.2" opacity="0.55"/>
<path d="M1280.0,1468.0 Q1410.0,1468.0 1540.0,1482.0" fill="none" stroke="#3a3a3a" stroke-width="2.6" opacity="0.8"/>
<path d="M1280.0,1472.0 Q1410.0,1472.0 1540.0,1486.0" fill="none" stroke="#8e8e8e" stroke-width="2.2" opacity="0.55"/>
<path d="M1280.0,1485.5 Q1410.0,1485.5 1540.0,1499.5" fill="none" stroke="#3a3a3a" stroke-width="2.6" opacity="0.8"/>
<path d="M1280.0,1489.5 Q1410.0,1489.5 1540.0,1503.5" fill="none" stroke="#8e8e8e" stroke-width="2.2" opacity="0.55"/>
<path d="M1280.0,1503.0 Q1410.0,1503.0 1540.0,1517.0" fill="none" stroke="#3a3a3a" stroke-width="2.6" opacity="0.8"/>
<path d="M1280.0,1507.0 Q1410.0,1507.0 1540.0,1521.0" fill="none" stroke="#8e8e8e" stroke-width="2.2" opacity="0.55"/>
<path d="M1280.0,1520.5 Q1410.0,1520.5 1540.0,1534.5" fill="none" stroke="#3a3a3a" stroke-width="2.6" opacity="0.8"/>
<path d="M1280.0,1524.5 Q1410.0,1524.5 1540.0,1538.5" fill="none" stroke="#8e8e8e" stroke-width="2.2" opacity="0.55"/>
<path d="M1280.0,1538.0 Q1410.0,1538.0 1540.0,1552.0" fill="none" stroke="#3a3a3a" stroke-width="2.6" opacity="0.8"/>
<path d="M1280.0,1542.0 Q1410.0,1542.0 1540.0,1556.0" fill="none" stroke="#8e8e8e" stroke-width="2.2" opacity="0.55"/>
<path d="M1280.0,1555.5 Q1410.0,1555.5 1540.0,1569.5" fill="none" stroke="#3a3a3a" stroke-width="2.6" opacity="0.8"/>
<path d="M1280.0,1559.5 Q1410.0,1559.5 1540.0,1573.5" fill="none" stroke="#8e8e8e" stroke-width="2.2" opacity="0.55"/>
<path d="M1280.0,1573.0 Q1410.0,1573.0 1540.0,1587.0" fill="none" stroke="#3a3a3a" stroke-width="2.6" opacity="0.8"/>
<path d="M1280.0,1577.0 Q1410.0,1577.0 1540.0,1591.0" fill="none" stroke="#8e8e8e" stroke-width="2.2" opacity="0.55"/>
<path d="M1280.0,1590.5 Q1410.0,1590.5 1540.0,1604.5" fill="none" stroke="#3a3a3a" stroke-width="2.6" opacity="0.8"/>
<path d="M1280.0,1594.5 Q1410.0,1594.5 1540.0,1608.5" fill="none" stroke="#8e8e8e" stroke-width="2.2" opacity="0.55"/>
<path d="M1280.0,1608.0 Q1410.0,1608.0 1540.0,1622.0" fill="none" stroke="#3a3a3a" stroke-width="2.6" opacity="0.8"/>
<path d="M1280.0,1612.0 Q1410.0,1612.0 1540.0,1626.0" fill="none" stroke="#8e8e8e" stroke-width="2.2" opacity="0.55"/>
<path d="M1280.0,1625.5 Q1410.0,1625.5 1540.0,1639.5" fill="none" stroke="#3a3a3a" stroke-width="2.6" opacity="0.8"/>
<path d="M1280.0,1629.5 Q1410.0,1629.5 1540.0,1643.5" fill="none" stroke="#8e8e8e" stroke-width="2.2" opacity="0.55"/>
<path d="M1280.0,1655.0 Q1405.0,1644.5 1530.0,1630.0" fill="none" stroke="#3a3a3a" stroke-width="2.6" opacity="0.8"/>
<path d="M1280.0,1659.0 Q1405.0,1648.5 1530.0,1634.0" fill="none" stroke="#8e8e8e" stroke-width="2.2" opacity="0.55"/>
<path d="M1286.0,1673.0 Q1408.0,1659.5 1530.0,1642.0" fill="none" stroke="#3a3a3a" stroke-width="2.6" opacity="0.8"/>
<path d="M1286.0,1677.0 Q1408.0,1663.5 1530.0,1646.0" fill="none" stroke="#8e8e8e" stroke-width="2.2" opacity="0.55"/>
<path d="M1292.0,1691.0 Q1411.0,1674.5 1530.0,1654.0" fill="none" stroke="#3a3a3a" stroke-width="2.6" opacity="0.8"/>
<path d="M1292.0,1695.0 Q1411.0,1678.5 1530.0,1658.0" fill="none" stroke="#8e8e8e" stroke-width="2.2" opacity="0.55"/>
<path d="M1298.0,1709.0 Q1414.0,1689.5 1530.0,1666.0" fill="none" stroke="#3a3a3a" stroke-width="2.6" opacity="0.8"/>
<path d="M1298.0,1713.0 Q1414.0,1693.5 1530.0,1670.0" fill="none" stroke="#8e8e8e" stroke-width="2.2" opacity="0.55"/>
<path d="M1304.0,1727.0 Q1417.0,1704.5 1530.0,1678.0" fill="none" stroke="#3a3a3a" stroke-width="2.6" opacity="0.8"/>
<path d="M1304.0,1731.0 Q1417.0,1708.5 1530.0,1682.0" fill="none" stroke="#8e8e8e" stroke-width="2.2" opacity="0.55"/>
<path d="M1310.0,1745.0 Q1420.0,1719.5 1530.0,1690.0" fill="none" stroke="#3a3a3a" stroke-width="2.6" opacity="0.8"/>
<path d="M1310.0,1749.0 Q1420.0,1723.5 1530.0,1694.0" fill="none" stroke="#8e8e8e" stroke-width="2.2" opacity="0.55"/>
<path d="M1316.0,1763.0 Q1423.0,1734.5 1530.0,1702.0" fill="none" stroke="#3a3a3a" stroke-width="2.6" opacity="0.8"/>
<path d="M1316.0,1767.0 Q1423.0,1738.5 1530.0,1706.0" fill="none" stroke="#8e8e8e" stroke-width="2.2" opacity="0.55"/>
<path d="M1322.0,1781.0 Q1426.0,1749.5 1530.0,1714.0" fill="none" stroke="#3a3a3a" stroke-width="2.6" opacity="0.8"/>
<path d="M1322.0,1785.0 Q1426.0,1753.5 1530.0,1718.0" fill="none" stroke="#8e8e8e" stroke-width="2.2" opacity="0.55"/>
<path d="M1328.0,1799.0 Q1429.0,1764.5 1530.0,1726.0" fill="none" stroke="#3a3a3a" stroke-width="2.6" opacity="0.8"/>
<path d="M1328.0,1803.0 Q1429.0,1768.5 1530.0,1730.0" fill="none" stroke="#8e8e8e" stroke-width="2.2" opacity="0.55"/>
<path d="M1334.0,1817.0 Q1432.0,1779.5 1530.0,1738.0" fill="none" stroke="#3a3a3a" stroke-width="2.6" opacity="0.8"/>
<path d="M1334.0,1821.0 Q1432.0,1783.5 1530.0,1742.0" fill="none" stroke="#8e8e8e" stroke-width="2.2" opacity="0.55"/>
<path d="M1340.0,1835.0 Q1435.0,1794.5 1530.0,1750.0" fill="none" stroke="#3a3a3a" stroke-width="2.6" opacity="0.8"/>
<path d="M1340.0,1839.0 Q1435.0,1798.5 1530.0,1754.0" fill="none" stroke="#8e8e8e" stroke-width="2.2" opacity="0.55"/>
</g>
<ellipse cx="1414" cy="1364" rx="8" ry="4" fill="#222" transform="rotate(-20 1414 1364)"/>
<ellipse cx="1481" cy="1390" rx="4" ry="8" fill="#222"/>
<path d="M1819.1,1396.6 C1818.2,1390.0 1820.9,1374.2 1824.6,1367.8 C1828.2,1361.4 1834.6,1359.9 1841.0,1358.3 C1847.4,1356.7 1857.4,1361.0 1862.9,1358.3 C1868.4,1355.6 1867.0,1345.6 1873.8,1341.9 C1880.6,1338.2 1892.5,1336.9 1903.9,1336.4 C1915.3,1335.9 1931.3,1336.4 1942.2,1339.1 C1953.1,1341.8 1961.3,1346.9 1969.5,1352.8 C1977.7,1358.7 1985.9,1367.0 1991.4,1374.7 C1996.9,1382.5 1996.4,1393.8 2002.3,1399.3 C2008.2,1404.8 2019.6,1403.4 2026.9,1407.5 C2034.2,1411.6 2040.1,1415.7 2046.0,1423.9 C2051.9,1432.1 2057.5,1447.6 2062.5,1456.7 C2067.5,1465.8 2070.6,1473.1 2076.1,1478.6 C2081.6,1484.1 2090.7,1484.0 2095.3,1489.5 C2099.9,1495.0 2098.0,1505.0 2103.5,1511.4 C2109.0,1517.8 2120.8,1519.6 2128.1,1527.8 C2135.4,1536.0 2143.1,1549.7 2147.2,1560.6 C2151.3,1571.5 2151.3,1583.4 2152.7,1593.4 C2154.1,1603.4 2155.8,1611.7 2155.4,1620.8 C2155.0,1629.9 2150.4,1639.0 2150.0,1648.1 C2149.6,1657.2 2150.4,1668.1 2152.7,1675.4 C2155.0,1682.7 2161.8,1682.7 2163.6,1691.8 C2165.4,1700.9 2161.3,1718.2 2163.6,1730.1 C2165.9,1741.9 2174.6,1753.8 2177.3,1762.9 C2180.0,1772.0 2182.3,1776.6 2180.0,1784.8 C2177.7,1793.0 2170.9,1804.8 2163.6,1812.1 C2156.3,1819.4 2146.8,1824.8 2136.3,1828.5 C2125.8,1832.2 2113.1,1834.5 2100.8,1834.0 C2088.5,1833.5 2074.3,1830.3 2062.5,1825.8 C2050.7,1821.2 2040.6,1813.5 2029.7,1806.7 C2018.8,1799.9 2006.0,1794.4 1996.9,1784.8 C1987.8,1775.2 1978.2,1760.2 1975.0,1749.3 C1971.8,1738.4 1974.0,1727.0 1977.7,1719.2 C1981.4,1711.5 1988.7,1706.5 1996.9,1702.8 C2005.1,1699.1 2017.8,1695.9 2026.9,1697.3 C2036.0,1698.7 2047.4,1704.6 2051.5,1711.0 C2055.6,1717.4 2048.3,1731.0 2051.5,1735.6 C2054.7,1740.1 2068.4,1748.3 2070.7,1738.3 C2073.0,1728.3 2065.2,1690.4 2065.2,1675.4 C2065.2,1660.4 2071.1,1658.1 2070.7,1648.1 C2070.2,1638.1 2068.0,1626.2 2062.5,1615.3 C2057.0,1604.4 2046.1,1591.6 2037.9,1582.5 C2029.7,1573.4 2021.0,1568.8 2013.3,1560.6 C2005.5,1552.4 1999.6,1541.9 1991.4,1533.3 C1983.2,1524.7 1973.1,1513.3 1964.0,1508.7 C1954.9,1504.1 1945.4,1505.0 1936.7,1505.9 C1928.0,1506.8 1917.6,1515.0 1912.1,1514.1 C1906.6,1513.2 1909.8,1503.7 1903.9,1500.5 C1898.0,1497.3 1883.4,1498.7 1876.6,1495.0 C1869.8,1491.3 1865.2,1487.7 1862.9,1478.6 C1860.6,1469.5 1861.5,1450.8 1862.9,1440.3 C1864.3,1429.8 1872.5,1420.2 1871.1,1415.7 C1869.7,1411.2 1861.5,1414.4 1854.7,1413.0 C1847.9,1411.6 1836.0,1410.2 1830.1,1407.5 C1824.2,1404.8 1820.0,1403.2 1819.1,1396.6 Z" fill="url(#wg2)" filter="url(#tex)"/>
</svg></body></html>
